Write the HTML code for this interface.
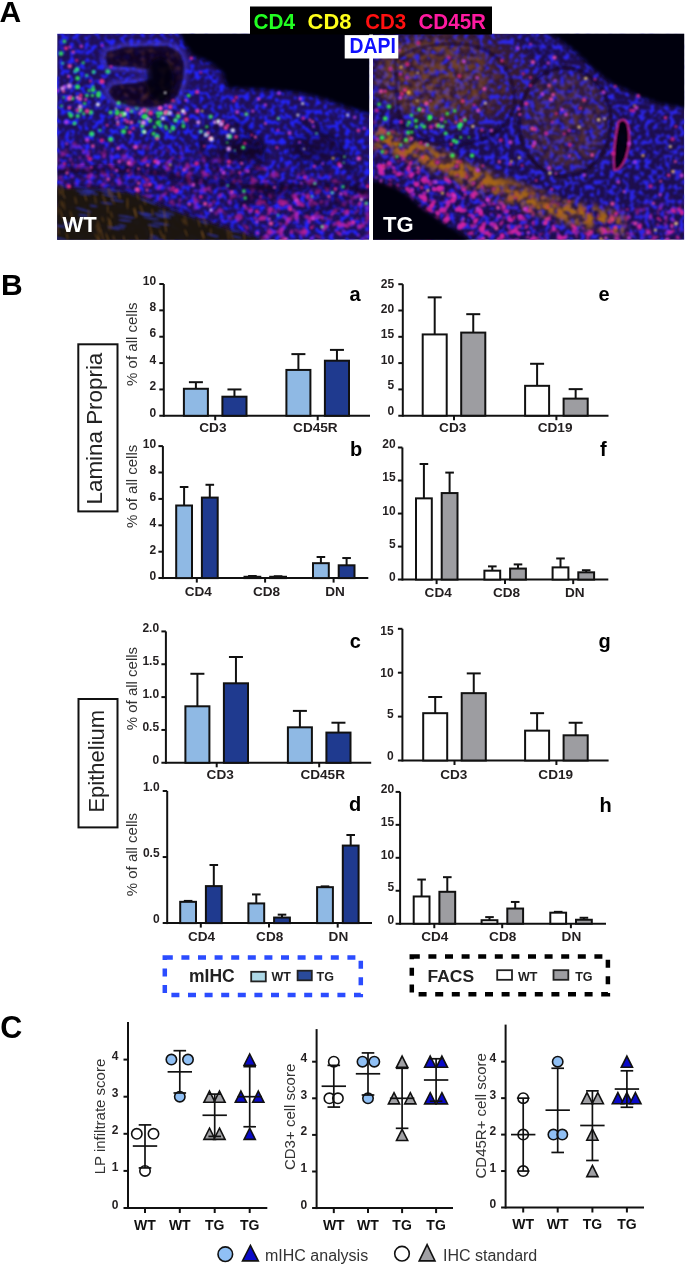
<!DOCTYPE html>
<html><head><meta charset="utf-8"><style>
html,body{margin:0;padding:0;background:#fff;}
body{width:685px;height:1265px;overflow:hidden;position:relative;}
svg{position:absolute;left:0;top:0;will-change:transform;}
text{font-family:"Liberation Sans", sans-serif;}
</style></head><body>
<svg width="685" height="1265" viewBox="0 0 685 1265">
<defs>
<clipPath id="cl"><rect x="57.2" y="33.7" width="312.0" height="206.10000000000002"/></clipPath>
<clipPath id="cr"><rect x="373.0" y="33.7" width="311.20000000000005" height="206.10000000000002"/></clipPath>
<filter id="b2" x="-20%" y="-20%" width="140%" height="140%"><feGaussianBlur stdDeviation="2"/></filter>
<filter id="b4" x="-20%" y="-20%" width="140%" height="140%"><feGaussianBlur stdDeviation="4"/></filter>
<filter id="b7" x="-30%" y="-30%" width="160%" height="160%"><feGaussianBlur stdDeviation="7"/></filter>
<filter id="d1" x="-50%" y="-50%" width="200%" height="200%"><feGaussianBlur stdDeviation="0.8"/></filter>
<filter id="tB" x="-5%" y="-5%" width="110%" height="110%" color-interpolation-filters="sRGB">
<feGaussianBlur in="SourceAlpha" stdDeviation="3" result="m"/>
<feTurbulence type="fractalNoise" baseFrequency="0.2" numOctaves="2" seed="3" result="t"/>
<feColorMatrix in="t" type="matrix" values="0 0 0 0 0.137  0 0 0 0 0.137  0 0 0 0 0.980  0 0 0 6 -2.85" result="c0"/>
<feGaussianBlur in="c0" stdDeviation="0.9" result="c"/>
<feComposite in="c" in2="m" operator="in"/>
</filter>
<filter id="tB2" x="-5%" y="-5%" width="110%" height="110%" color-interpolation-filters="sRGB">
<feGaussianBlur in="SourceAlpha" stdDeviation="3" result="m"/>
<feTurbulence type="fractalNoise" baseFrequency="0.2" numOctaves="2" seed="11" result="t"/>
<feColorMatrix in="t" type="matrix" values="0 0 0 0 0.176  0 0 0 0 0.157  0 0 0 0 0.980  0 0 0 6 -2.85" result="c0"/>
<feGaussianBlur in="c0" stdDeviation="0.9" result="c"/>
<feComposite in="c" in2="m" operator="in"/>
</filter>
<filter id="tM" x="-5%" y="-5%" width="110%" height="110%" color-interpolation-filters="sRGB">
<feGaussianBlur in="SourceAlpha" stdDeviation="5" result="m"/>
<feTurbulence type="fractalNoise" baseFrequency="0.14" numOctaves="2" seed="5" result="t"/>
<feColorMatrix in="t" type="matrix" values="0 0 0 0 0.824  0 0 0 0 0.137  0 0 0 0 0.647  0 0 0 5 -2.6" result="c0"/>
<feGaussianBlur in="c0" stdDeviation="0.9" result="c"/>
<feComposite in="c" in2="m" operator="in"/>
</filter>
<filter id="tO" x="-5%" y="-5%" width="110%" height="110%" color-interpolation-filters="sRGB">
<feGaussianBlur in="SourceAlpha" stdDeviation="5" result="m"/>
<feTurbulence type="fractalNoise" baseFrequency="0.14" numOctaves="2" seed="8" result="t"/>
<feColorMatrix in="t" type="matrix" values="0 0 0 0 0.667  0 0 0 0 0.408  0 0 0 0 0.078  0 0 0 5 -2.0" result="c0"/>
<feGaussianBlur in="c0" stdDeviation="0.9" result="c"/>
<feComposite in="c" in2="m" operator="in"/>
</filter>
<filter id="tBr" x="-5%" y="-5%" width="110%" height="110%" color-interpolation-filters="sRGB">
<feGaussianBlur in="SourceAlpha" stdDeviation="5" result="m"/>
<feTurbulence type="fractalNoise" baseFrequency="0.15" numOctaves="2" seed="9" result="t"/>
<feColorMatrix in="t" type="matrix" values="0 0 0 0 0.431  0 0 0 0 0.235  0 0 0 0 0.196  0 0 0 4 -1.9" result="c0"/>
<feGaussianBlur in="c0" stdDeviation="0.9" result="c"/>
<feComposite in="c" in2="m" operator="in"/>
</filter>
</defs>
<g clip-path="url(#cl)">
<rect x="57.2" y="33.7" width="312.0" height="206.10000000000002" fill="#201056"/>
<rect x="50" y="30" width="325" height="215" fill="#fff" filter="url(#tB)" opacity="1"/>
<g filter="url(#tM)" opacity="0.6">
<path d="M57.0,140.0 L120.0,145.0 L200.0,155.0 L260.0,165.0 L330.0,175.0 L369.0,185.0 L369.0,240.0 L262.0,240.0 L200.0,215.0 L150.0,200.0 L100.0,192.0 L57.0,188.0 Z" fill="#fff" opacity="1"/>
</g>
<g filter="url(#tM)" opacity="0.5">
<path d="M240.0,195.0 L300.0,190.0 L369.0,195.0 L369.0,240.0 L262.0,240.0 Z" fill="#fff" opacity="1"/>
</g>
<g opacity="0.85">
<circle cx="142.3" cy="126.1" r="2.1" fill="#30ff50" filter="url(#d1)"/>
<circle cx="183.4" cy="126.5" r="1.7" fill="#30ff50" filter="url(#d1)"/>
<circle cx="183.4" cy="125.1" r="1.3" fill="#30ff50" filter="url(#d1)"/>
<circle cx="139.6" cy="121.8" r="1.3" fill="#30ff50" filter="url(#d1)"/>
<circle cx="100.0" cy="130.3" r="1.4" fill="#30ff50" filter="url(#d1)"/>
<circle cx="157.1" cy="136.6" r="2.5" fill="#30ff50" filter="url(#d1)"/>
<circle cx="123.3" cy="114.4" r="2.6" fill="#30ff50" filter="url(#d1)"/>
<circle cx="206.8" cy="126.8" r="1.6" fill="#30ff50" filter="url(#d1)"/>
<circle cx="159.3" cy="124.7" r="1.6" fill="#30ff50" filter="url(#d1)"/>
<circle cx="157.6" cy="113.1" r="2.0" fill="#30ff50" filter="url(#d1)"/>
<circle cx="131.4" cy="111.1" r="2.0" fill="#30ff50" filter="url(#d1)"/>
<circle cx="159.7" cy="121.6" r="1.5" fill="#30ff50" filter="url(#d1)"/>
<circle cx="136.6" cy="108.5" r="1.6" fill="#30ff50" filter="url(#d1)"/>
<circle cx="121.7" cy="113.2" r="1.6" fill="#30ff50" filter="url(#d1)"/>
<circle cx="162.8" cy="102.1" r="1.5" fill="#30ff50" filter="url(#d1)"/>
<circle cx="117.3" cy="113.4" r="2.4" fill="#30ff50" filter="url(#d1)"/>
<circle cx="146.8" cy="110.2" r="2.6" fill="#30ff50" filter="url(#d1)"/>
<circle cx="173.0" cy="128.4" r="2.3" fill="#30ff50" filter="url(#d1)"/>
<circle cx="170.1" cy="131.4" r="1.3" fill="#30ff50" filter="url(#d1)"/>
<circle cx="124.9" cy="102.2" r="2.0" fill="#30ff50" filter="url(#d1)"/>
<circle cx="168.5" cy="112.7" r="2.2" fill="#30ff50" filter="url(#d1)"/>
<circle cx="117.2" cy="111.2" r="1.8" fill="#30ff50" filter="url(#d1)"/>
<circle cx="188.7" cy="95.6" r="1.9" fill="#30ff50" filter="url(#d1)"/>
<circle cx="144.5" cy="116.4" r="2.2" fill="#30ff50" filter="url(#d1)"/>
<circle cx="93.0" cy="89.8" r="2.4" fill="#30ff50" filter="url(#d1)"/>
<circle cx="143.6" cy="131.6" r="2.1" fill="#30ff50" filter="url(#d1)"/>
<circle cx="183.1" cy="121.9" r="1.4" fill="#30ff50" filter="url(#d1)"/>
<circle cx="157.8" cy="122.8" r="2.3" fill="#30ff50" filter="url(#d1)"/>
<circle cx="165.6" cy="126.6" r="1.7" fill="#30ff50" filter="url(#d1)"/>
<circle cx="158.5" cy="116.4" r="1.8" fill="#30ff50" filter="url(#d1)"/>
<circle cx="90.8" cy="112.4" r="2.3" fill="#30ff50" filter="url(#d1)"/>
<circle cx="165.9" cy="112.7" r="1.8" fill="#30ff50" filter="url(#d1)"/>
<circle cx="110.7" cy="139.3" r="2.5" fill="#30ff50" filter="url(#d1)"/>
<circle cx="160.9" cy="126.1" r="1.5" fill="#30ff50" filter="url(#d1)"/>
<circle cx="153.6" cy="133.7" r="2.0" fill="#30ff50" filter="url(#d1)"/>
<circle cx="149.8" cy="121.1" r="1.8" fill="#30ff50" filter="url(#d1)"/>
<circle cx="123.6" cy="131.4" r="2.5" fill="#30ff50" filter="url(#d1)"/>
<circle cx="136.8" cy="106.6" r="2.1" fill="#30ff50" filter="url(#d1)"/>
<circle cx="145.5" cy="116.4" r="2.5" fill="#30ff50" filter="url(#d1)"/>
<circle cx="161.4" cy="96.0" r="2.3" fill="#30ff50" filter="url(#d1)"/>
<circle cx="126.4" cy="127.6" r="1.3" fill="#30ff50" filter="url(#d1)"/>
<circle cx="142.9" cy="116.8" r="1.3" fill="#30ff50" filter="url(#d1)"/>
<circle cx="154.6" cy="126.9" r="1.7" fill="#30ff50" filter="url(#d1)"/>
<circle cx="150.6" cy="120.1" r="1.4" fill="#30ff50" filter="url(#d1)"/>
<circle cx="172.9" cy="126.8" r="1.2" fill="#30ff50" filter="url(#d1)"/>
<circle cx="86.7" cy="75.5" r="1.4" fill="#30ff60" filter="url(#d1)"/>
<circle cx="74.8" cy="123.1" r="1.7" fill="#30ff60" filter="url(#d1)"/>
<circle cx="91.7" cy="133.9" r="2.6" fill="#30ff60" filter="url(#d1)"/>
<circle cx="61.5" cy="106.1" r="1.3" fill="#30ff60" filter="url(#d1)"/>
<circle cx="83.8" cy="113.7" r="1.6" fill="#30ff60" filter="url(#d1)"/>
<circle cx="78.4" cy="86.9" r="1.2" fill="#30ff60" filter="url(#d1)"/>
<circle cx="89.0" cy="90.7" r="1.4" fill="#30ff60" filter="url(#d1)"/>
<circle cx="72.3" cy="98.4" r="1.9" fill="#30ff60" filter="url(#d1)"/>
<circle cx="98.7" cy="93.3" r="2.2" fill="#30ff60" filter="url(#d1)"/>
<circle cx="74.2" cy="123.8" r="1.4" fill="#30ff60" filter="url(#d1)"/>
<circle cx="77.0" cy="69.5" r="2.3" fill="#30ff60" filter="url(#d1)"/>
<circle cx="70.9" cy="115.6" r="2.3" fill="#30ff60" filter="url(#d1)"/>
<circle cx="98.4" cy="95.4" r="2.3" fill="#30ff60" filter="url(#d1)"/>
<circle cx="83.2" cy="62.7" r="1.5" fill="#30ff60" filter="url(#d1)"/>
<circle cx="63.8" cy="97.4" r="1.2" fill="#30ff60" filter="url(#d1)"/>
<circle cx="84.6" cy="103.5" r="1.6" fill="#30ff60" filter="url(#d1)"/>
<circle cx="64.4" cy="41.4" r="1.8" fill="#30ff60" filter="url(#d1)"/>
<circle cx="107.9" cy="71.3" r="2.5" fill="#30ff60" filter="url(#d1)"/>
<circle cx="69.4" cy="113.3" r="1.5" fill="#30ff60" filter="url(#d1)"/>
<circle cx="77.7" cy="116.0" r="2.1" fill="#30ff60" filter="url(#d1)"/>
<circle cx="93.6" cy="71.9" r="1.9" fill="#30ff60" filter="url(#d1)"/>
<circle cx="62.7" cy="63.2" r="1.3" fill="#30ff60" filter="url(#d1)"/>
<circle cx="61.0" cy="53.6" r="2.3" fill="#30ff60" filter="url(#d1)"/>
<circle cx="75.0" cy="71.5" r="1.4" fill="#30ff60" filter="url(#d1)"/>
<circle cx="77.6" cy="78.2" r="2.3" fill="#30ff60" filter="url(#d1)"/>
<circle cx="86.9" cy="95.6" r="1.8" fill="#30ff60" filter="url(#d1)"/>
<circle cx="93.2" cy="86.8" r="1.4" fill="#30ff60" filter="url(#d1)"/>
<circle cx="79.8" cy="110.2" r="2.5" fill="#30ff60" filter="url(#d1)"/>
<circle cx="77.3" cy="86.8" r="2.4" fill="#30ff60" filter="url(#d1)"/>
<circle cx="92.4" cy="95.5" r="1.7" fill="#30ff60" filter="url(#d1)"/>
</g>
<path d="M107.0,52.0 L125.0,47.0 L150.0,46.0 L168.0,46.0 L179.0,52.0 L184.0,62.0 L183.0,80.0 L178.0,95.0 L170.0,104.0 L150.0,108.0 L130.0,106.0 L115.0,101.0 L108.0,92.0 L113.0,85.0 L135.0,83.0 L153.0,79.0 L152.0,70.0 L132.0,67.0 L108.0,66.0 L105.0,58.0 Z" fill="none" stroke="#4a40e8" stroke-width="9" opacity="0.55" filter="url(#b2)"/>
<path d="M107.0,52.0 L125.0,47.0 L150.0,46.0 L168.0,46.0 L179.0,52.0 L184.0,62.0 L183.0,80.0 L178.0,95.0 L170.0,104.0 L150.0,108.0 L130.0,106.0 L115.0,101.0 L108.0,92.0 L113.0,85.0 L135.0,83.0 L153.0,79.0 L152.0,70.0 L132.0,67.0 L108.0,66.0 L105.0,58.0 Z" fill="#0a0514" opacity="0.82" filter="url(#d1)"/>
<g filter="url(#tBr)" opacity="0.5"><path d="M107.0,52.0 L125.0,47.0 L150.0,46.0 L168.0,46.0 L179.0,52.0 L184.0,62.0 L183.0,80.0 L178.0,95.0 L170.0,104.0 L150.0,108.0 L130.0,106.0 L115.0,101.0 L108.0,92.0 L113.0,85.0 L135.0,83.0 L153.0,79.0 L152.0,70.0 L132.0,67.0 L108.0,66.0 L105.0,58.0 Z" fill="#fff"/></g>
<ellipse cx="160.0" cy="80.0" rx="14.0" ry="22.0" fill="#05020a" opacity="0.8" transform="rotate(0 160.0 80.0)" filter="url(#b2)"/>
<ellipse cx="249.0" cy="150.0" rx="14.0" ry="12.0" fill="#0a0418" opacity="0.7" transform="rotate(0 249.0 150.0)" filter="url(#b4)"/>
<ellipse cx="300.0" cy="148.0" rx="10.0" ry="9.0" fill="#0a0418" opacity="0.5" transform="rotate(0 300.0 148.0)" filter="url(#b4)"/>
<ellipse cx="262.0" cy="195.0" rx="30.0" ry="8.0" fill="#0a0418" opacity="0.45" transform="rotate(-10 262.0 195.0)" filter="url(#b4)"/>
<ellipse cx="330.0" cy="205.0" rx="25.0" ry="6.0" fill="#0a0418" opacity="0.4" transform="rotate(-15 330.0 205.0)" filter="url(#b4)"/>
<path d="M57,172 Q120,165 180,178 Q240,190 300,186 Q340,184 369,192" fill="none" stroke="#0a0418" stroke-width="5" opacity="0.6" filter="url(#b2)"/>
<path d="M200,140 Q215,120 240,125 Q262,135 262,160 Q255,180 232,178 Q210,170 200,140 Z" fill="none" stroke="#0a0418" stroke-width="4" opacity="0.55" filter="url(#b2)"/>
<path d="M300,120 Q330,130 345,160 Q355,185 369,200" fill="none" stroke="#0a0418" stroke-width="4" opacity="0.45" filter="url(#b2)"/>
<ellipse cx="230.0" cy="150.0" rx="14.0" ry="14.0" fill="#0a0418" opacity="0.5" transform="rotate(0 230.0 150.0)" filter="url(#b4)"/>
<ellipse cx="320.0" cy="150.0" rx="20.0" ry="14.0" fill="#0a0418" opacity="0.5" transform="rotate(0 320.0 150.0)" filter="url(#b7)"/>
<path d="M50.0,186.0 L90.0,188.0 L125.0,191.0 L145.0,197.0 L160.0,205.0 L185.0,214.0 L213.0,223.0 L240.0,232.0 L262.0,238.0 L262.0,250.0 L50.0,250.0 Z" fill="#1e1209" opacity="0.97" filter="url(#b2)"/>
<ellipse cx="59.9" cy="238.5" rx="7.2" ry="1.1" fill="#3038d0" opacity="0.65" transform="rotate(12.898715706485833 59.9 238.5)" filter="url(#d1)"/>
<ellipse cx="235.7" cy="231.0" rx="5.1" ry="1.1" fill="#3038d0" opacity="0.65" transform="rotate(8.777522170481808 235.7 231.0)" filter="url(#d1)"/>
<ellipse cx="117.1" cy="200.5" rx="6.9" ry="1.1" fill="#3038d0" opacity="0.65" transform="rotate(8.890471929053152 117.1 200.5)" filter="url(#d1)"/>
<ellipse cx="150.9" cy="218.3" rx="8.5" ry="1.1" fill="#3038d0" opacity="0.65" transform="rotate(11.309424060635978 150.9 218.3)" filter="url(#d1)"/>
<ellipse cx="166.0" cy="215.2" rx="4.1" ry="1.1" fill="#3038d0" opacity="0.65" transform="rotate(11.60187368577415 166.0 215.2)" filter="url(#d1)"/>
<ellipse cx="154.1" cy="225.7" rx="6.8" ry="1.1" fill="#3038d0" opacity="0.65" transform="rotate(9.889732265732961 154.1 225.7)" filter="url(#d1)"/>
<ellipse cx="163.3" cy="216.9" rx="7.9" ry="1.1" fill="#3038d0" opacity="0.65" transform="rotate(6.591641256573924 163.3 216.9)" filter="url(#d1)"/>
<ellipse cx="113.8" cy="228.2" rx="6.5" ry="1.1" fill="#3038d0" opacity="0.65" transform="rotate(13.425940799847144 113.8 228.2)" filter="url(#d1)"/>
<ellipse cx="212.8" cy="235.4" rx="6.2" ry="1.1" fill="#3038d0" opacity="0.65" transform="rotate(14.187918265166905 212.8 235.4)" filter="url(#d1)"/>
<ellipse cx="160.6" cy="214.6" rx="7.5" ry="1.1" fill="#3038d0" opacity="0.65" transform="rotate(11.785186883973644 160.6 214.6)" filter="url(#d1)"/>
<ellipse cx="166.3" cy="212.9" rx="8.7" ry="1.1" fill="#3038d0" opacity="0.65" transform="rotate(15.488268232704288 166.3 212.9)" filter="url(#d1)"/>
<ellipse cx="236.7" cy="237.0" rx="5.3" ry="1.1" fill="#3038d0" opacity="0.65" transform="rotate(13.392707097465722 236.7 237.0)" filter="url(#d1)"/>
<ellipse cx="85.1" cy="194.3" rx="6.2" ry="1.1" fill="#3038d0" opacity="0.65" transform="rotate(6.088191494847324 85.1 194.3)" filter="url(#d1)"/>
<ellipse cx="106.3" cy="191.8" rx="7.3" ry="1.1" fill="#3038d0" opacity="0.65" transform="rotate(16.759040257597327 106.3 191.8)" filter="url(#d1)"/>
<ellipse cx="203.8" cy="222.3" rx="4.7" ry="1.1" fill="#3038d0" opacity="0.65" transform="rotate(18.24249250485613 203.8 222.3)" filter="url(#d1)"/>
<ellipse cx="156.9" cy="239.5" rx="8.2" ry="1.1" fill="#3038d0" opacity="0.65" transform="rotate(7.421990898213187 156.9 239.5)" filter="url(#d1)"/>
<ellipse cx="145.5" cy="214.8" rx="5.7" ry="1.1" fill="#3038d0" opacity="0.65" transform="rotate(7.936169992008967 145.5 214.8)" filter="url(#d1)"/>
<ellipse cx="122.3" cy="225.6" rx="4.1" ry="1.1" fill="#3038d0" opacity="0.65" transform="rotate(13.31075371712492 122.3 225.6)" filter="url(#d1)"/>
<ellipse cx="125.0" cy="220.4" rx="6.6" ry="1.1" fill="#3038d0" opacity="0.65" transform="rotate(5.964361888861278 125.0 220.4)" filter="url(#d1)"/>
<ellipse cx="111.4" cy="190.1" rx="7.9" ry="1.1" fill="#3038d0" opacity="0.65" transform="rotate(9.056691462819636 111.4 190.1)" filter="url(#d1)"/>
<ellipse cx="83.6" cy="210.0" rx="8.6" ry="1.1" fill="#3038d0" opacity="0.65" transform="rotate(17.284684696719225 83.6 210.0)" filter="url(#d1)"/>
<ellipse cx="110.0" cy="195.8" rx="8.6" ry="1.1" fill="#3038d0" opacity="0.65" transform="rotate(13.558923880898808 110.0 195.8)" filter="url(#d1)"/>
<ellipse cx="68.8" cy="223.8" rx="6.1" ry="1.1" fill="#3038d0" opacity="0.65" transform="rotate(6.0862114208478575 68.8 223.8)" filter="url(#d1)"/>
<ellipse cx="126.5" cy="216.8" rx="8.6" ry="1.1" fill="#3038d0" opacity="0.65" transform="rotate(9.017896200161813 126.5 216.8)" filter="url(#d1)"/>
<ellipse cx="83.5" cy="215.4" rx="5.2" ry="1.1" fill="#3038d0" opacity="0.65" transform="rotate(6.641771976189258 83.5 215.4)" filter="url(#d1)"/>
<ellipse cx="90.1" cy="190.6" rx="5.0" ry="1.1" fill="#3038d0" opacity="0.65" transform="rotate(9.679886061177154 90.1 190.6)" filter="url(#d1)"/>
<ellipse cx="119.5" cy="227.5" rx="5.4" ry="1.1" fill="#3038d0" opacity="0.65" transform="rotate(12.50132899792759 119.5 227.5)" filter="url(#d1)"/>
<ellipse cx="93.5" cy="206.0" rx="4.1" ry="1.1" fill="#3038d0" opacity="0.65" transform="rotate(8.756731342928411 93.5 206.0)" filter="url(#d1)"/>
<ellipse cx="60.1" cy="226.1" rx="6.8" ry="1.1" fill="#3038d0" opacity="0.65" transform="rotate(7.841847447406676 60.1 226.1)" filter="url(#d1)"/>
<ellipse cx="154.3" cy="236.6" rx="4.5" ry="1.1" fill="#3038d0" opacity="0.65" transform="rotate(17.28380210512571 154.3 236.6)" filter="url(#d1)"/>
<ellipse cx="145.6" cy="213.7" rx="8.2" ry="1.1" fill="#3038d0" opacity="0.65" transform="rotate(10.896291133423789 145.6 213.7)" filter="url(#d1)"/>
<ellipse cx="160.9" cy="223.8" rx="8.9" ry="1.1" fill="#3038d0" opacity="0.65" transform="rotate(10.140569381262118 160.9 223.8)" filter="url(#d1)"/>
<ellipse cx="83.6" cy="191.7" rx="7.7" ry="1.1" fill="#3038d0" opacity="0.65" transform="rotate(8.833908151545455 83.6 191.7)" filter="url(#d1)"/>
<ellipse cx="90.5" cy="192.4" rx="8.2" ry="1.1" fill="#3038d0" opacity="0.65" transform="rotate(18.058067318716226 90.5 192.4)" filter="url(#d1)"/>
<ellipse cx="106.7" cy="203.2" rx="6.3" ry="1.1" fill="#3038d0" opacity="0.65" transform="rotate(7.362994097438085 106.7 203.2)" filter="url(#d1)"/>
<ellipse cx="148.4" cy="201.7" rx="8.8" ry="1.1" fill="#3038d0" opacity="0.65" transform="rotate(19.589344969195643 148.4 201.7)" filter="url(#d1)"/>
<ellipse cx="135.2" cy="212.7" rx="5.0" ry="0.9" fill="#8a5a20" opacity="0.5" transform="rotate(66.02940162603096 135.2 212.7)" filter="url(#d1)"/>
<ellipse cx="111.2" cy="192.7" rx="4.6" ry="0.9" fill="#8a5a20" opacity="0.5" transform="rotate(61.25000873073458 111.2 192.7)" filter="url(#d1)"/>
<ellipse cx="61.6" cy="203.8" rx="3.9" ry="0.9" fill="#8a5a20" opacity="0.5" transform="rotate(77.567498525449 61.6 203.8)" filter="url(#d1)"/>
<ellipse cx="165.5" cy="227.0" rx="5.6" ry="0.9" fill="#8a5a20" opacity="0.5" transform="rotate(81.47980320096934 165.5 227.0)" filter="url(#d1)"/>
<ellipse cx="123.9" cy="239.2" rx="3.6" ry="0.9" fill="#8a5a20" opacity="0.5" transform="rotate(81.72467320085477 123.9 239.2)" filter="url(#d1)"/>
<ellipse cx="228.2" cy="234.4" rx="5.5" ry="0.9" fill="#8a5a20" opacity="0.5" transform="rotate(82.01556370430885 228.2 234.4)" filter="url(#d1)"/>
<ellipse cx="164.4" cy="214.2" rx="6.3" ry="0.9" fill="#8a5a20" opacity="0.5" transform="rotate(84.14032817246313 164.4 214.2)" filter="url(#d1)"/>
<ellipse cx="63.4" cy="194.9" rx="4.4" ry="0.9" fill="#8a5a20" opacity="0.5" transform="rotate(63.14749413206091 63.4 194.9)" filter="url(#d1)"/>
<ellipse cx="185.7" cy="220.6" rx="5.7" ry="0.9" fill="#8a5a20" opacity="0.5" transform="rotate(74.67882944579263 185.7 220.6)" filter="url(#d1)"/>
<ellipse cx="57.7" cy="229.5" rx="6.0" ry="0.9" fill="#8a5a20" opacity="0.5" transform="rotate(75.08913157087362 57.7 229.5)" filter="url(#d1)"/>
<ellipse cx="166.7" cy="222.3" rx="3.3" ry="0.9" fill="#8a5a20" opacity="0.5" transform="rotate(82.10364985626751 166.7 222.3)" filter="url(#d1)"/>
<ellipse cx="108.7" cy="191.9" rx="4.1" ry="0.9" fill="#8a5a20" opacity="0.5" transform="rotate(81.8800511411819 108.7 191.9)" filter="url(#d1)"/>
<ellipse cx="99.1" cy="226.5" rx="6.9" ry="0.9" fill="#8a5a20" opacity="0.5" transform="rotate(74.81846336547983 99.1 226.5)" filter="url(#d1)"/>
<ellipse cx="135.4" cy="212.9" rx="5.7" ry="0.9" fill="#8a5a20" opacity="0.5" transform="rotate(83.00910317452568 135.4 212.9)" filter="url(#d1)"/>
<ellipse cx="183.5" cy="221.4" rx="3.3" ry="0.9" fill="#8a5a20" opacity="0.5" transform="rotate(64.42275218630722 183.5 221.4)" filter="url(#d1)"/>
<ellipse cx="109.1" cy="226.6" rx="4.2" ry="0.9" fill="#8a5a20" opacity="0.5" transform="rotate(77.03285093607926 109.1 226.6)" filter="url(#d1)"/>
<ellipse cx="59.6" cy="191.2" rx="4.1" ry="0.9" fill="#8a5a20" opacity="0.5" transform="rotate(80.16004735965709 59.6 191.2)" filter="url(#d1)"/>
<ellipse cx="198.9" cy="223.1" rx="4.2" ry="0.9" fill="#8a5a20" opacity="0.5" transform="rotate(75.49607082133222 198.9 223.1)" filter="url(#d1)"/>
<ellipse cx="152.3" cy="212.2" rx="3.5" ry="0.9" fill="#8a5a20" opacity="0.5" transform="rotate(86.8098877852581 152.3 212.2)" filter="url(#d1)"/>
<ellipse cx="97.8" cy="238.9" rx="6.7" ry="0.9" fill="#8a5a20" opacity="0.5" transform="rotate(60.525133674499884 97.8 238.9)" filter="url(#d1)"/>
<ellipse cx="151.1" cy="230.6" rx="6.9" ry="0.9" fill="#8a5a20" opacity="0.5" transform="rotate(73.48352908953285 151.1 230.6)" filter="url(#d1)"/>
<ellipse cx="112.1" cy="198.9" rx="6.8" ry="0.9" fill="#8a5a20" opacity="0.5" transform="rotate(66.32126392601718 112.1 198.9)" filter="url(#d1)"/>
<ellipse cx="164.4" cy="237.5" rx="3.5" ry="0.9" fill="#8a5a20" opacity="0.5" transform="rotate(84.60651031844353 164.4 237.5)" filter="url(#d1)"/>
<ellipse cx="161.3" cy="234.1" rx="5.8" ry="0.9" fill="#8a5a20" opacity="0.5" transform="rotate(66.9415080915141 161.3 234.1)" filter="url(#d1)"/>
<ellipse cx="62.1" cy="188.2" rx="5.0" ry="0.9" fill="#8a5a20" opacity="0.5" transform="rotate(73.52280901493563 62.1 188.2)" filter="url(#d1)"/>
<ellipse cx="118.9" cy="195.3" rx="4.4" ry="0.9" fill="#8a5a20" opacity="0.5" transform="rotate(69.4823413612491 118.9 195.3)" filter="url(#d1)"/>
<ellipse cx="210.9" cy="231.6" rx="3.5" ry="0.9" fill="#8a5a20" opacity="0.5" transform="rotate(87.7919657965916 210.9 231.6)" filter="url(#d1)"/>
<ellipse cx="203.2" cy="234.9" rx="4.2" ry="0.9" fill="#8a5a20" opacity="0.5" transform="rotate(71.16665998063475 203.2 234.9)" filter="url(#d1)"/>
<ellipse cx="137.5" cy="239.9" rx="5.4" ry="0.9" fill="#8a5a20" opacity="0.5" transform="rotate(70.82127971770215 137.5 239.9)" filter="url(#d1)"/>
<ellipse cx="144.8" cy="202.3" rx="3.2" ry="0.9" fill="#8a5a20" opacity="0.5" transform="rotate(63.05129573902879 144.8 202.3)" filter="url(#d1)"/>
<ellipse cx="111.5" cy="214.6" rx="3.8" ry="0.9" fill="#8a5a20" opacity="0.5" transform="rotate(71.2004785504511 111.5 214.6)" filter="url(#d1)"/>
<ellipse cx="244.3" cy="236.9" rx="5.2" ry="0.9" fill="#8a5a20" opacity="0.5" transform="rotate(81.58717745853444 244.3 236.9)" filter="url(#d1)"/>
<ellipse cx="67.1" cy="226.1" rx="4.8" ry="0.9" fill="#8a5a20" opacity="0.5" transform="rotate(82.58004027722163 67.1 226.1)" filter="url(#d1)"/>
<ellipse cx="67.0" cy="236.2" rx="3.5" ry="0.9" fill="#8a5a20" opacity="0.5" transform="rotate(74.16552262340485 67.0 236.2)" filter="url(#d1)"/>
<ellipse cx="127.5" cy="203.5" rx="6.0" ry="0.9" fill="#8a5a20" opacity="0.5" transform="rotate(89.28888529229562 127.5 203.5)" filter="url(#d1)"/>
<ellipse cx="110.3" cy="222.1" rx="4.2" ry="0.9" fill="#8a5a20" opacity="0.5" transform="rotate(76.71965107371122 110.3 222.1)" filter="url(#d1)"/>
<ellipse cx="137.8" cy="196.7" rx="3.6" ry="0.9" fill="#8a5a20" opacity="0.5" transform="rotate(66.2361756341021 137.8 196.7)" filter="url(#d1)"/>
<ellipse cx="102.1" cy="235.1" rx="7.0" ry="0.9" fill="#8a5a20" opacity="0.5" transform="rotate(73.49881330745437 102.1 235.1)" filter="url(#d1)"/>
<ellipse cx="85.6" cy="198.0" rx="3.4" ry="0.9" fill="#8a5a20" opacity="0.5" transform="rotate(70.25865701344775 85.6 198.0)" filter="url(#d1)"/>
<ellipse cx="75.7" cy="200.4" rx="4.0" ry="0.9" fill="#8a5a20" opacity="0.5" transform="rotate(77.08853226947974 75.7 200.4)" filter="url(#d1)"/>
<ellipse cx="141.6" cy="209.5" rx="5.1" ry="0.9" fill="#8a5a20" opacity="0.5" transform="rotate(71.30597440978285 141.6 209.5)" filter="url(#d1)"/>
<ellipse cx="113.9" cy="238.3" rx="3.5" ry="0.9" fill="#8a5a20" opacity="0.5" transform="rotate(75.10187242833354 113.9 238.3)" filter="url(#d1)"/>
<ellipse cx="186.1" cy="232.9" rx="3.9" ry="0.9" fill="#8a5a20" opacity="0.5" transform="rotate(68.13062643188017 186.1 232.9)" filter="url(#d1)"/>
<ellipse cx="107.9" cy="208.8" rx="4.8" ry="0.9" fill="#8a5a20" opacity="0.5" transform="rotate(88.61830725789429 107.9 208.8)" filter="url(#d1)"/>
<ellipse cx="231.0" cy="233.4" rx="3.1" ry="0.9" fill="#8a5a20" opacity="0.5" transform="rotate(60.96730480161306 231.0 233.4)" filter="url(#d1)"/>
<ellipse cx="202.4" cy="234.6" rx="4.9" ry="0.9" fill="#8a5a20" opacity="0.5" transform="rotate(77.61529471497782 202.4 234.6)" filter="url(#d1)"/>
<ellipse cx="57.0" cy="208.4" rx="6.7" ry="0.9" fill="#8a5a20" opacity="0.5" transform="rotate(84.76767618831875 57.0 208.4)" filter="url(#d1)"/>
<ellipse cx="232.4" cy="238.6" rx="4.0" ry="0.9" fill="#8a5a20" opacity="0.5" transform="rotate(63.27137996788332 232.4 238.6)" filter="url(#d1)"/>
<ellipse cx="88.6" cy="215.2" rx="5.7" ry="0.9" fill="#8a5a20" opacity="0.5" transform="rotate(88.24471678407386 88.6 215.2)" filter="url(#d1)"/>
<ellipse cx="205.0" cy="221.7" rx="6.1" ry="0.9" fill="#8a5a20" opacity="0.5" transform="rotate(73.71975125782268 205.0 221.7)" filter="url(#d1)"/>
<ellipse cx="119.3" cy="194.7" rx="4.0" ry="0.9" fill="#8a5a20" opacity="0.5" transform="rotate(79.08873292150285 119.3 194.7)" filter="url(#d1)"/>
<ellipse cx="71.4" cy="215.3" rx="5.3" ry="0.9" fill="#8a5a20" opacity="0.5" transform="rotate(71.64245842267913 71.4 215.3)" filter="url(#d1)"/>
<ellipse cx="102.8" cy="219.3" rx="3.0" ry="0.9" fill="#8a5a20" opacity="0.5" transform="rotate(69.04563903727548 102.8 219.3)" filter="url(#d1)"/>
<ellipse cx="151.4" cy="237.9" rx="5.6" ry="0.9" fill="#8a5a20" opacity="0.5" transform="rotate(86.51322087102182 151.4 237.9)" filter="url(#d1)"/>
<ellipse cx="107.6" cy="238.0" rx="5.8" ry="0.9" fill="#8a5a20" opacity="0.5" transform="rotate(69.22193483754442 107.6 238.0)" filter="url(#d1)"/>
<ellipse cx="61.5" cy="213.9" rx="5.7" ry="0.9" fill="#8a5a20" opacity="0.5" transform="rotate(72.60047616386981 61.5 213.9)" filter="url(#d1)"/>
<ellipse cx="109.7" cy="222.7" rx="6.7" ry="0.9" fill="#8a5a20" opacity="0.5" transform="rotate(66.8035821973406 109.7 222.7)" filter="url(#d1)"/>
<ellipse cx="64.0" cy="205.6" rx="4.7" ry="0.9" fill="#8a5a20" opacity="0.5" transform="rotate(80.47700048901697 64.0 205.6)" filter="url(#d1)"/>
<ellipse cx="97.6" cy="229.4" rx="6.0" ry="0.9" fill="#8a5a20" opacity="0.5" transform="rotate(75.1463516207261 97.6 229.4)" filter="url(#d1)"/>
<ellipse cx="99.1" cy="238.4" rx="4.2" ry="0.9" fill="#8a5a20" opacity="0.5" transform="rotate(84.60013483329115 99.1 238.4)" filter="url(#d1)"/>
<ellipse cx="104.3" cy="199.5" rx="6.0" ry="0.9" fill="#8a5a20" opacity="0.5" transform="rotate(68.84798551552177 104.3 199.5)" filter="url(#d1)"/>
<ellipse cx="95.4" cy="199.6" rx="4.7" ry="0.9" fill="#8a5a20" opacity="0.5" transform="rotate(79.95882758269096 95.4 199.6)" filter="url(#d1)"/>
<path d="M178.0,30.0 L372.0,30.0 L372.0,115.0 L345.0,107.0 L327.0,100.0 L300.0,93.0 L281.0,91.0 L250.0,89.0 L227.0,88.0 L222.0,72.0 L208.0,62.0 L193.0,56.0 L184.0,44.0 Z" fill="#040208" opacity="1" filter="url(#b2)"/>
<circle cx="73.2" cy="52.0" r="1.6" fill="#ff50b0" opacity="0.85" filter="url(#d1)"/>
<circle cx="285.6" cy="239.5" r="2.2" fill="#ff50b0" opacity="0.85" filter="url(#d1)"/>
<circle cx="116.5" cy="170.5" r="1.8" fill="#d040e0" opacity="0.85" filter="url(#d1)"/>
<circle cx="67.0" cy="172.9" r="1.6" fill="#ff50b0" opacity="0.85" filter="url(#d1)"/>
<circle cx="364.3" cy="128.5" r="1.3" fill="#ff3090" opacity="0.85" filter="url(#d1)"/>
<circle cx="144.3" cy="110.3" r="2.3" fill="#ff3090" opacity="0.85" filter="url(#d1)"/>
<circle cx="232.1" cy="191.8" r="1.6" fill="#ff50b0" opacity="0.85" filter="url(#d1)"/>
<circle cx="313.5" cy="126.5" r="1.3" fill="#d040e0" opacity="0.85" filter="url(#d1)"/>
<circle cx="118.1" cy="148.3" r="1.7" fill="#ff50b0" opacity="0.85" filter="url(#d1)"/>
<circle cx="66.4" cy="122.2" r="2.1" fill="#d040e0" opacity="0.85" filter="url(#d1)"/>
<circle cx="69.7" cy="47.0" r="1.3" fill="#ff3090" opacity="0.85" filter="url(#d1)"/>
<circle cx="137.2" cy="189.5" r="2.2" fill="#ff50b0" opacity="0.85" filter="url(#d1)"/>
<circle cx="170.2" cy="107.0" r="2.2" fill="#ff3090" opacity="0.85" filter="url(#d1)"/>
<circle cx="138.8" cy="183.3" r="1.5" fill="#ff50b0" opacity="0.85" filter="url(#d1)"/>
<circle cx="149.8" cy="184.3" r="1.9" fill="#ff3090" opacity="0.85" filter="url(#d1)"/>
<circle cx="64.6" cy="86.8" r="1.7" fill="#d040e0" opacity="0.85" filter="url(#d1)"/>
<circle cx="354.6" cy="117.3" r="1.5" fill="#d040e0" opacity="0.85" filter="url(#d1)"/>
<circle cx="200.8" cy="196.8" r="1.9" fill="#e02080" opacity="0.85" filter="url(#d1)"/>
<circle cx="184.2" cy="169.9" r="1.7" fill="#ff50b0" opacity="0.85" filter="url(#d1)"/>
<circle cx="107.1" cy="125.3" r="1.3" fill="#ff3090" opacity="0.85" filter="url(#d1)"/>
<circle cx="87.1" cy="139.7" r="2.0" fill="#d040e0" opacity="0.85" filter="url(#d1)"/>
<circle cx="111.0" cy="66.6" r="1.7" fill="#e02080" opacity="0.85" filter="url(#d1)"/>
<circle cx="290.4" cy="209.4" r="1.9" fill="#ff3090" opacity="0.85" filter="url(#d1)"/>
<circle cx="300.3" cy="98.8" r="1.5" fill="#ff50b0" opacity="0.85" filter="url(#d1)"/>
<circle cx="173.4" cy="187.6" r="1.4" fill="#e02080" opacity="0.85" filter="url(#d1)"/>
<circle cx="221.2" cy="169.9" r="1.3" fill="#d040e0" opacity="0.85" filter="url(#d1)"/>
<circle cx="205.1" cy="203.8" r="2.1" fill="#ff50b0" opacity="0.85" filter="url(#d1)"/>
<circle cx="69.6" cy="98.7" r="1.3" fill="#e02080" opacity="0.85" filter="url(#d1)"/>
<circle cx="244.4" cy="205.6" r="1.4" fill="#ff3090" opacity="0.85" filter="url(#d1)"/>
<circle cx="197.1" cy="92.0" r="2.1" fill="#ff3090" opacity="0.85" filter="url(#d1)"/>
<circle cx="90.0" cy="159.2" r="1.9" fill="#e02080" opacity="0.85" filter="url(#d1)"/>
<circle cx="68.7" cy="108.0" r="1.2" fill="#ff50b0" opacity="0.85" filter="url(#d1)"/>
<circle cx="68.9" cy="186.4" r="2.2" fill="#ff3090" opacity="0.85" filter="url(#d1)"/>
<circle cx="312.5" cy="121.8" r="1.6" fill="#ff50b0" opacity="0.85" filter="url(#d1)"/>
<circle cx="81.3" cy="46.3" r="1.7" fill="#d040e0" opacity="0.85" filter="url(#d1)"/>
<circle cx="76.7" cy="60.3" r="1.6" fill="#e02080" opacity="0.85" filter="url(#d1)"/>
<circle cx="108.1" cy="179.1" r="1.7" fill="#ff50b0" opacity="0.85" filter="url(#d1)"/>
<circle cx="265.4" cy="123.6" r="1.3" fill="#ff50b0" opacity="0.85" filter="url(#d1)"/>
<circle cx="296.2" cy="200.4" r="1.9" fill="#d040e0" opacity="0.85" filter="url(#d1)"/>
<circle cx="189.2" cy="204.1" r="1.6" fill="#ff50b0" opacity="0.85" filter="url(#d1)"/>
<circle cx="200.8" cy="72.5" r="1.2" fill="#e02080" opacity="0.85" filter="url(#d1)"/>
<circle cx="256.9" cy="222.0" r="1.3" fill="#ff50b0" opacity="0.85" filter="url(#d1)"/>
<circle cx="176.7" cy="190.7" r="2.1" fill="#e02080" opacity="0.85" filter="url(#d1)"/>
<circle cx="155.1" cy="161.5" r="1.9" fill="#ff3090" opacity="0.85" filter="url(#d1)"/>
<circle cx="339.1" cy="164.1" r="2.1" fill="#e02080" opacity="0.85" filter="url(#d1)"/>
<circle cx="256.8" cy="211.3" r="1.9" fill="#e02080" opacity="0.85" filter="url(#d1)"/>
<circle cx="125.1" cy="119.9" r="1.8" fill="#d040e0" opacity="0.85" filter="url(#d1)"/>
<circle cx="359.9" cy="203.1" r="1.4" fill="#ff3090" opacity="0.85" filter="url(#d1)"/>
<circle cx="265.4" cy="104.8" r="1.6" fill="#d040e0" opacity="0.85" filter="url(#d1)"/>
<circle cx="228.6" cy="165.4" r="1.5" fill="#d040e0" opacity="0.85" filter="url(#d1)"/>
<circle cx="178.4" cy="113.5" r="1.8" fill="#e02080" opacity="0.85" filter="url(#d1)"/>
<circle cx="64.3" cy="163.8" r="1.7" fill="#e02080" opacity="0.85" filter="url(#d1)"/>
<circle cx="196.4" cy="163.7" r="2.1" fill="#e02080" opacity="0.85" filter="url(#d1)"/>
<circle cx="309.9" cy="120.1" r="1.3" fill="#ff50b0" opacity="0.85" filter="url(#d1)"/>
<circle cx="191.3" cy="58.3" r="1.7" fill="#ff3090" opacity="0.85" filter="url(#d1)"/>
<circle cx="69.7" cy="66.1" r="2.2" fill="#ff50b0" opacity="0.85" filter="url(#d1)"/>
<circle cx="299.6" cy="142.3" r="1.3" fill="#d040e0" opacity="0.85" filter="url(#d1)"/>
<circle cx="260.7" cy="196.8" r="1.2" fill="#ff3090" opacity="0.85" filter="url(#d1)"/>
<circle cx="367.8" cy="186.4" r="2.1" fill="#e02080" opacity="0.85" filter="url(#d1)"/>
<circle cx="305.0" cy="177.2" r="2.0" fill="#e02080" opacity="0.85" filter="url(#d1)"/>
<circle cx="77.4" cy="110.2" r="2.0" fill="#e02080" opacity="0.85" filter="url(#d1)"/>
<circle cx="158.0" cy="162.7" r="2.2" fill="#d040e0" opacity="0.85" filter="url(#d1)"/>
<circle cx="101.8" cy="140.4" r="2.2" fill="#e02080" opacity="0.85" filter="url(#d1)"/>
<circle cx="241.7" cy="163.2" r="1.5" fill="#ff50b0" opacity="0.85" filter="url(#d1)"/>
<circle cx="68.5" cy="76.4" r="1.4" fill="#ff50b0" opacity="0.85" filter="url(#d1)"/>
<circle cx="269.1" cy="219.1" r="1.4" fill="#ff50b0" opacity="0.85" filter="url(#d1)"/>
<circle cx="92.9" cy="146.1" r="1.9" fill="#ff50b0" opacity="0.85" filter="url(#d1)"/>
<circle cx="358.4" cy="130.6" r="1.8" fill="#ff3090" opacity="0.85" filter="url(#d1)"/>
<circle cx="135.6" cy="147.1" r="2.1" fill="#ff50b0" opacity="0.85" filter="url(#d1)"/>
<circle cx="237.1" cy="112.1" r="2.0" fill="#d040e0" opacity="0.85" filter="url(#d1)"/>
<circle cx="128.8" cy="163.1" r="2.3" fill="#ff50b0" opacity="0.85" filter="url(#d1)"/>
<circle cx="239.8" cy="172.7" r="1.5" fill="#ff3090" opacity="0.85" filter="url(#d1)"/>
<circle cx="147.8" cy="165.1" r="1.7" fill="#ff50b0" opacity="0.85" filter="url(#d1)"/>
<circle cx="127.9" cy="170.6" r="1.2" fill="#ff3090" opacity="0.85" filter="url(#d1)"/>
<circle cx="233.9" cy="100.7" r="1.8" fill="#e02080" opacity="0.85" filter="url(#d1)"/>
<circle cx="185.9" cy="100.2" r="1.3" fill="#ff50b0" opacity="0.85" filter="url(#d1)"/>
<circle cx="251.7" cy="135.0" r="1.3" fill="#e02080" opacity="0.85" filter="url(#d1)"/>
<circle cx="277.7" cy="130.2" r="1.3" fill="#e02080" opacity="0.85" filter="url(#d1)"/>
<circle cx="328.8" cy="196.4" r="1.6" fill="#ff50b0" opacity="0.85" filter="url(#d1)"/>
<circle cx="313.1" cy="218.5" r="1.9" fill="#d040e0" opacity="0.85" filter="url(#d1)"/>
<circle cx="244.8" cy="143.5" r="1.7" fill="#e02080" opacity="0.85" filter="url(#d1)"/>
<circle cx="222.8" cy="121.2" r="1.5" fill="#ff3090" opacity="0.85" filter="url(#d1)"/>
<circle cx="248.1" cy="171.4" r="1.4" fill="#d040e0" opacity="0.85" filter="url(#d1)"/>
<circle cx="119.2" cy="161.6" r="1.8" fill="#d040e0" opacity="0.85" filter="url(#d1)"/>
<circle cx="301.3" cy="183.1" r="1.2" fill="#d040e0" opacity="0.85" filter="url(#d1)"/>
<circle cx="289.5" cy="133.1" r="2.0" fill="#d040e0" opacity="0.85" filter="url(#d1)"/>
<circle cx="138.6" cy="168.8" r="1.3" fill="#ff50b0" opacity="0.85" filter="url(#d1)"/>
<circle cx="279.0" cy="93.2" r="1.8" fill="#d040e0" opacity="0.85" filter="url(#d1)"/>
<circle cx="270.9" cy="223.5" r="2.3" fill="#ff50b0" opacity="0.85" filter="url(#d1)"/>
<circle cx="257.3" cy="233.0" r="1.4" fill="#ff3090" opacity="0.85" filter="url(#d1)"/>
<circle cx="116.9" cy="117.7" r="1.9" fill="#d040e0" opacity="0.85" filter="url(#d1)"/>
<circle cx="340.2" cy="166.1" r="2.0" fill="#d040e0" opacity="0.85" filter="url(#d1)"/>
<circle cx="204.3" cy="146.1" r="1.2" fill="#ff3090" opacity="0.85" filter="url(#d1)"/>
<circle cx="193.4" cy="184.9" r="1.8" fill="#ff50b0" opacity="0.85" filter="url(#d1)"/>
<circle cx="303.2" cy="118.3" r="1.8" fill="#e02080" opacity="0.85" filter="url(#d1)"/>
<circle cx="102.1" cy="45.4" r="1.3" fill="#e02080" opacity="0.85" filter="url(#d1)"/>
<circle cx="66.0" cy="48.3" r="2.0" fill="#ff3090" opacity="0.85" filter="url(#d1)"/>
<circle cx="274.5" cy="187.4" r="1.3" fill="#ff50b0" opacity="0.85" filter="url(#d1)"/>
<circle cx="223.6" cy="172.8" r="2.2" fill="#d040e0" opacity="0.85" filter="url(#d1)"/>
<circle cx="90.4" cy="81.1" r="1.3" fill="#ff3090" opacity="0.85" filter="url(#d1)"/>
<circle cx="353.2" cy="222.2" r="2.0" fill="#ff3090" opacity="0.85" filter="url(#d1)"/>
<circle cx="314.4" cy="166.3" r="1.5" fill="#ff3090" opacity="0.85" filter="url(#d1)"/>
<circle cx="258.7" cy="98.9" r="1.6" fill="#ff50b0" opacity="0.85" filter="url(#d1)"/>
<circle cx="63.5" cy="91.3" r="1.5" fill="#ff50b0" opacity="0.85" filter="url(#d1)"/>
<circle cx="341.0" cy="193.8" r="1.9" fill="#d040e0" opacity="0.85" filter="url(#d1)"/>
<circle cx="322.6" cy="163.7" r="1.2" fill="#d040e0" opacity="0.85" filter="url(#d1)"/>
<circle cx="66.7" cy="143.7" r="1.3" fill="#d040e0" opacity="0.85" filter="url(#d1)"/>
<circle cx="276.9" cy="147.6" r="1.4" fill="#ff3090" opacity="0.85" filter="url(#d1)"/>
<circle cx="236.3" cy="97.4" r="1.7" fill="#e02080" opacity="0.85" filter="url(#d1)"/>
<circle cx="147.0" cy="190.1" r="1.3" fill="#ff50b0" opacity="0.85" filter="url(#d1)"/>
<circle cx="210.1" cy="138.3" r="2.1" fill="#e02080" opacity="0.85" filter="url(#d1)"/>
<circle cx="358.8" cy="158.5" r="2.3" fill="#ff50b0" opacity="0.85" filter="url(#d1)"/>
<circle cx="311.4" cy="227.7" r="1.5" fill="#e02080" opacity="0.85" filter="url(#d1)"/>
<circle cx="91.3" cy="167.3" r="1.3" fill="#ff3090" opacity="0.85" filter="url(#d1)"/>
<circle cx="252.9" cy="111.1" r="1.6" fill="#d040e0" opacity="0.85" filter="url(#d1)"/>
<circle cx="335.3" cy="189.0" r="1.7" fill="#ff3090" opacity="0.85" filter="url(#d1)"/>
<circle cx="173.0" cy="100.6" r="1.7" fill="#e02080" opacity="0.85" filter="url(#d1)"/>
<circle cx="129.9" cy="132.2" r="1.8" fill="#ff3090" opacity="0.85" filter="url(#d1)"/>
<circle cx="165.7" cy="105.3" r="1.4" fill="#d040e0" opacity="0.85" filter="url(#d1)"/>
<circle cx="311.9" cy="196.5" r="1.2" fill="#60ff90" opacity="0.8" filter="url(#d1)"/>
<circle cx="316.5" cy="133.4" r="1.2" fill="#60ff90" opacity="0.8" filter="url(#d1)"/>
<circle cx="278.1" cy="215.1" r="1.2" fill="#30ff60" opacity="0.8" filter="url(#d1)"/>
<circle cx="245.2" cy="198.1" r="1.8" fill="#30ff60" opacity="0.8" filter="url(#d1)"/>
<circle cx="322.2" cy="226.7" r="1.7" fill="#60ff90" opacity="0.8" filter="url(#d1)"/>
<circle cx="227.2" cy="142.6" r="1.2" fill="#30ff60" opacity="0.8" filter="url(#d1)"/>
<circle cx="227.8" cy="185.5" r="1.2" fill="#30ff60" opacity="0.8" filter="url(#d1)"/>
<circle cx="366.3" cy="203.3" r="1.7" fill="#60ff90" opacity="0.8" filter="url(#d1)"/>
<circle cx="246.3" cy="114.2" r="1.9" fill="#60ff90" opacity="0.8" filter="url(#d1)"/>
<circle cx="234.9" cy="150.5" r="1.0" fill="#60ff90" opacity="0.8" filter="url(#d1)"/>
<circle cx="344.4" cy="156.7" r="1.2" fill="#60ff90" opacity="0.8" filter="url(#d1)"/>
<circle cx="278.3" cy="118.4" r="1.6" fill="#60ff90" opacity="0.8" filter="url(#d1)"/>
<circle cx="200.9" cy="131.5" r="1.9" fill="#60ff90" opacity="0.8" filter="url(#d1)"/>
<circle cx="343.0" cy="186.8" r="1.7" fill="#30ff60" opacity="0.8" filter="url(#d1)"/>
<circle cx="314.9" cy="183.4" r="1.5" fill="#60ff90" opacity="0.8" filter="url(#d1)"/>
<circle cx="243.9" cy="191.1" r="1.9" fill="#30ff60" opacity="0.8" filter="url(#d1)"/>
<circle cx="332.2" cy="192.7" r="1.6" fill="#60ff90" opacity="0.8" filter="url(#d1)"/>
<circle cx="343.6" cy="162.8" r="1.0" fill="#60ff90" opacity="0.8" filter="url(#d1)"/>
<circle cx="229.5" cy="136.5" r="2.5" fill="#40ff70" opacity="0.85" filter="url(#d1)"/>
<circle cx="80.2" cy="106.8" r="2.3" fill="#f0a0ff" opacity="0.85" filter="url(#d1)"/>
<circle cx="236.0" cy="136.8" r="1.9" fill="#ff3080" opacity="0.85" filter="url(#d1)"/>
<circle cx="97.9" cy="104.5" r="2.0" fill="#ffffff" opacity="0.85" filter="url(#d1)"/>
<circle cx="141.9" cy="111.3" r="1.5" fill="#f0a0ff" opacity="0.85" filter="url(#d1)"/>
<circle cx="166.5" cy="111.5" r="1.8" fill="#ff3080" opacity="0.85" filter="url(#d1)"/>
<circle cx="69.8" cy="107.5" r="1.4" fill="#ff40a0" opacity="0.85" filter="url(#d1)"/>
<circle cx="227.7" cy="125.4" r="1.6" fill="#ff3080" opacity="0.85" filter="url(#d1)"/>
<circle cx="101.9" cy="81.4" r="2.6" fill="#ff3080" opacity="0.85" filter="url(#d1)"/>
<circle cx="255.4" cy="137.0" r="1.5" fill="#ff60c0" opacity="0.85" filter="url(#d1)"/>
<circle cx="210.7" cy="116.7" r="2.1" fill="#40ff70" opacity="0.85" filter="url(#d1)"/>
<circle cx="198.3" cy="122.3" r="2.1" fill="#f0a0ff" opacity="0.85" filter="url(#d1)"/>
<circle cx="218.3" cy="121.6" r="2.3" fill="#ffffff" opacity="0.85" filter="url(#d1)"/>
<circle cx="184.7" cy="113.2" r="1.6" fill="#ff60c0" opacity="0.85" filter="url(#d1)"/>
<circle cx="131.3" cy="122.5" r="1.9" fill="#ff60c0" opacity="0.85" filter="url(#d1)"/>
<circle cx="214.7" cy="122.3" r="1.7" fill="#f0a0ff" opacity="0.85" filter="url(#d1)"/>
<circle cx="143.4" cy="122.8" r="2.5" fill="#f0a0ff" opacity="0.85" filter="url(#d1)"/>
<circle cx="87.1" cy="111.2" r="2.4" fill="#ff40a0" opacity="0.85" filter="url(#d1)"/>
<circle cx="232.8" cy="130.4" r="2.1" fill="#ffffff" opacity="0.85" filter="url(#d1)"/>
<circle cx="77.6" cy="97.4" r="1.7" fill="#f0a0ff" opacity="0.85" filter="url(#d1)"/>
<circle cx="165.2" cy="113.1" r="2.3" fill="#ff60c0" opacity="0.85" filter="url(#d1)"/>
<circle cx="133.3" cy="128.3" r="1.5" fill="#ff3080" opacity="0.85" filter="url(#d1)"/>
<circle cx="221.2" cy="124.1" r="2.5" fill="#f0a0ff" opacity="0.85" filter="url(#d1)"/>
<circle cx="160.9" cy="113.3" r="2.2" fill="#40ff70" opacity="0.85" filter="url(#d1)"/>
<circle cx="160.5" cy="108.2" r="2.0" fill="#ff40a0" opacity="0.85" filter="url(#d1)"/>
<circle cx="110.6" cy="112.4" r="2.0" fill="#40ff70" opacity="0.85" filter="url(#d1)"/>
<circle cx="159.8" cy="108.1" r="1.9" fill="#ff60c0" opacity="0.85" filter="url(#d1)"/>
<circle cx="163.0" cy="118.4" r="1.9" fill="#ffffff" opacity="0.85" filter="url(#d1)"/>
<circle cx="117.9" cy="124.3" r="1.5" fill="#ff40a0" opacity="0.85" filter="url(#d1)"/>
<circle cx="127.7" cy="109.6" r="2.2" fill="#ff40a0" opacity="0.85" filter="url(#d1)"/>
<circle cx="228.8" cy="161.7" r="1.9" fill="#ff3080" opacity="0.85" filter="url(#d1)"/>
<circle cx="206.4" cy="134.5" r="2.1" fill="#40ff70" opacity="0.85" filter="url(#d1)"/>
<circle cx="140.0" cy="113.6" r="1.7" fill="#ff60c0" opacity="0.85" filter="url(#d1)"/>
<circle cx="125.0" cy="113.7" r="1.7" fill="#ffffff" opacity="0.85" filter="url(#d1)"/>
<circle cx="211.4" cy="139.0" r="2.4" fill="#ffffff" opacity="0.85" filter="url(#d1)"/>
<circle cx="127.5" cy="121.7" r="1.7" fill="#ff40a0" opacity="0.85" filter="url(#d1)"/>
<circle cx="117.8" cy="121.9" r="1.4" fill="#f0a0ff" opacity="0.85" filter="url(#d1)"/>
<circle cx="243.2" cy="147.4" r="2.0" fill="#40ff70" opacity="0.85" filter="url(#d1)"/>
<circle cx="69.2" cy="98.3" r="2.4" fill="#ff60c0" opacity="0.85" filter="url(#d1)"/>
<circle cx="150.5" cy="112.9" r="2.5" fill="#ff3080" opacity="0.85" filter="url(#d1)"/>
<circle cx="170.0" cy="113.1" r="2.2" fill="#f0a0ff" opacity="0.85" filter="url(#d1)"/>
<circle cx="228.0" cy="135.8" r="1.9" fill="#f0a0ff" opacity="0.85" filter="url(#d1)"/>
<circle cx="208.0" cy="133.1" r="1.8" fill="#ff40a0" opacity="0.85" filter="url(#d1)"/>
<circle cx="80.0" cy="98.8" r="2.3" fill="#ff60c0" opacity="0.85" filter="url(#d1)"/>
<circle cx="166.5" cy="128.8" r="1.3" fill="#40ff70" opacity="0.85" filter="url(#d1)"/>
<circle cx="56.7" cy="90.6" r="1.9" fill="#ff40a0" opacity="0.85" filter="url(#d1)"/>
<circle cx="69.3" cy="85.9" r="2.6" fill="#f0a0ff" opacity="0.85" filter="url(#d1)"/>
<circle cx="148.0" cy="118.8" r="1.9" fill="#f0a0ff" opacity="0.85" filter="url(#d1)"/>
<circle cx="225.8" cy="127.8" r="2.2" fill="#ff40a0" opacity="0.85" filter="url(#d1)"/>
<circle cx="85.6" cy="99.6" r="1.5" fill="#ff40a0" opacity="0.85" filter="url(#d1)"/>
<circle cx="62.5" cy="88.5" r="2.3" fill="#f0a0ff" opacity="0.85" filter="url(#d1)"/>
<circle cx="228.7" cy="148.9" r="2.4" fill="#f0a0ff" opacity="0.85" filter="url(#d1)"/>
<circle cx="205.9" cy="134.9" r="1.9" fill="#f0a0ff" opacity="0.85" filter="url(#d1)"/>
<circle cx="197.4" cy="111.0" r="2.2" fill="#ff40a0" opacity="0.85" filter="url(#d1)"/>
<circle cx="70.8" cy="96.9" r="1.4" fill="#ff3080" opacity="0.85" filter="url(#d1)"/>
<circle cx="118.6" cy="103.0" r="2.1" fill="#40ff70" opacity="0.85" filter="url(#d1)"/>
<circle cx="157.1" cy="138.7" r="1.8" fill="#ff40a0" opacity="0.85" filter="url(#d1)"/>
<circle cx="178.2" cy="116.4" r="2.3" fill="#40ff70" opacity="0.85" filter="url(#d1)"/>
<circle cx="144.6" cy="132.0" r="1.7" fill="#ffffff" opacity="0.85" filter="url(#d1)"/>
<circle cx="80.7" cy="95.2" r="1.7" fill="#ff3080" opacity="0.85" filter="url(#d1)"/>
<circle cx="186.3" cy="119.6" r="2.4" fill="#ff3080" opacity="0.85" filter="url(#d1)"/>
<circle cx="175.5" cy="120.2" r="2.2" fill="#40ff70" opacity="0.85" filter="url(#d1)"/>
<circle cx="183.0" cy="111.1" r="2.2" fill="#ffffff" opacity="0.85" filter="url(#d1)"/>
<circle cx="120.7" cy="115.3" r="1.7" fill="#ff40a0" opacity="0.85" filter="url(#d1)"/>
<circle cx="361.3" cy="199.6" r="1.4" fill="#ffffff" opacity="0.8" filter="url(#d1)"/>
<circle cx="165.2" cy="92.8" r="1.4" fill="#ffffff" opacity="0.8" filter="url(#d1)"/>
<circle cx="347.7" cy="115.1" r="1.5" fill="#ffffff" opacity="0.8" filter="url(#d1)"/>
<circle cx="202.2" cy="111.0" r="1.2" fill="#ffe060" opacity="0.8" filter="url(#d1)"/>
<circle cx="304.0" cy="149.0" r="1.1" fill="#ffffff" opacity="0.8" filter="url(#d1)"/>
<circle cx="297.9" cy="114.9" r="1.5" fill="#ffffff" opacity="0.8" filter="url(#d1)"/>
<circle cx="333.1" cy="158.3" r="1.4" fill="#ffe060" opacity="0.8" filter="url(#d1)"/>
<circle cx="116.0" cy="108.8" r="1.1" fill="#ffffff" opacity="0.8" filter="url(#d1)"/>
<circle cx="170.2" cy="164.7" r="1.3" fill="#ffe060" opacity="0.8" filter="url(#d1)"/>
<circle cx="210.9" cy="210.0" r="1.3" fill="#ffffff" opacity="0.8" filter="url(#d1)"/>
<circle cx="302.7" cy="103.4" r="1.5" fill="#ffffff" opacity="0.8" filter="url(#d1)"/>
</g>
<g clip-path="url(#cr)">
<rect x="373.0" y="33.7" width="311.20000000000005" height="206.10000000000002" fill="#1e0f4c"/>
<ellipse cx="455.0" cy="78.0" rx="80.0" ry="50.0" fill="#4a2820" opacity="0.6" transform="rotate(0 455.0 78.0)" filter="url(#b7)"/>
<ellipse cx="565.0" cy="125.0" rx="48.0" ry="55.0" fill="#3a2030" opacity="0.45" transform="rotate(0 565.0 125.0)" filter="url(#b7)"/>
<rect x="365" y="30" width="325" height="215" fill="#fff" filter="url(#tB2)" opacity="0.9"/>
<g filter="url(#tBr)" opacity="0.45">
<ellipse cx="455.0" cy="80.0" rx="60.0" ry="42.0" fill="#fff" opacity="1" transform="rotate(0 455.0 80.0)"/>
</g>
<g filter="url(#tBr)" opacity="0.3">
<ellipse cx="565.0" cy="120.0" rx="45.0" ry="52.0" fill="#fff" opacity="1" transform="rotate(0 565.0 120.0)"/>
</g>
<g filter="url(#tO)" opacity="0.4">
<ellipse cx="430.0" cy="75.0" rx="60.0" ry="40.0" fill="#fff" opacity="1" transform="rotate(0 430.0 75.0)"/>
</g>
<g filter="url(#tO)" opacity="0.2">
<ellipse cx="565.0" cy="120.0" rx="40.0" ry="48.0" fill="#fff" opacity="1" transform="rotate(0 565.0 120.0)"/>
</g>
<g filter="url(#tM)">
<path d="M373.0,120.0 L430.0,150.0 L500.0,185.0 L560.0,205.0 L620.0,215.0 L690.0,200.0 L690.0,245.0 L365.0,245.0 Z" fill="#fff" opacity="1"/>
</g>
<g filter="url(#tM)" opacity="0.8">
<path d="M373.0,150.0 L420.0,175.0 L470.0,200.0 L520.0,215.0 L540.0,245.0 L365.0,245.0 Z" fill="#fff" opacity="1"/>
</g>
<ellipse cx="487.0" cy="180.0" rx="120.0" ry="9.0" fill="#7a4810" opacity="0.45" transform="rotate(22 487.0 180.0)" filter="url(#b4)"/>
<g filter="url(#tO)">
<path d="M373.0,126.0 L418.0,141.0 L487.0,173.0 L555.0,199.0 L600.0,208.0 L622.0,216.0 L628.0,236.0 L600.0,230.0 L555.0,219.0 L487.0,194.0 L418.0,163.0 L373.0,147.0 Z" fill="#fff" opacity="1"/>
</g>
<ellipse cx="565" cy="122" rx="46" ry="54" fill="none" stroke="#0c0620" stroke-width="2.5" opacity="0.7" filter="url(#d1)"/>
<path d="M395,60 Q420,40 470,45 Q515,55 515,105 Q505,140 455,146 Q405,146 398,110 Z" fill="none" stroke="#0c0620" stroke-width="2.5" opacity="0.6" filter="url(#d1)"/>
<path d="M540.0,30.0 L690.0,30.0 L690.0,109.0 L660.0,104.0 L643.0,98.0 L625.0,90.0 L609.0,82.0 L592.0,68.0 L575.0,52.0 L560.0,40.0 Z" fill="#040208" opacity="1" filter="url(#b2)"/>
<path d="M365.0,179.0 L380.0,181.0 L396.0,187.0 L410.0,196.0 L419.0,205.0 L430.0,213.0 L441.0,221.0 L455.0,229.0 L464.0,235.0 L474.0,245.0 L365.0,245.0 Z" fill="#040208" opacity="1" filter="url(#b2)"/>
<path d="M618,122 Q624,116 628,124 Q632,140 626,158 Q620,172 614,170 Q612,150 618,122 Z" fill="#040208" stroke="#e02a9a" stroke-width="1.6" opacity="0.95" filter="url(#d1)"/>
<circle cx="460.5" cy="161.4" r="1.3" fill="#e02080" opacity="0.8" filter="url(#d1)"/>
<circle cx="682.0" cy="213.2" r="1.7" fill="#e02080" opacity="0.8" filter="url(#d1)"/>
<circle cx="454.6" cy="195.8" r="1.7" fill="#d040e0" opacity="0.8" filter="url(#d1)"/>
<circle cx="612.4" cy="203.8" r="2.3" fill="#ff50b0" opacity="0.8" filter="url(#d1)"/>
<circle cx="636.2" cy="107.8" r="2.3" fill="#d040e0" opacity="0.8" filter="url(#d1)"/>
<circle cx="399.1" cy="50.2" r="1.8" fill="#d040e0" opacity="0.8" filter="url(#d1)"/>
<circle cx="524.9" cy="209.1" r="2.2" fill="#d040e0" opacity="0.8" filter="url(#d1)"/>
<circle cx="660.7" cy="181.3" r="1.3" fill="#ff50b0" opacity="0.8" filter="url(#d1)"/>
<circle cx="549.1" cy="168.1" r="2.3" fill="#d040e0" opacity="0.8" filter="url(#d1)"/>
<circle cx="430.0" cy="209.9" r="1.6" fill="#e02080" opacity="0.8" filter="url(#d1)"/>
<circle cx="385.1" cy="91.2" r="1.6" fill="#ff3090" opacity="0.8" filter="url(#d1)"/>
<circle cx="618.3" cy="181.9" r="1.9" fill="#d040e0" opacity="0.8" filter="url(#d1)"/>
<circle cx="390.4" cy="69.0" r="2.0" fill="#e02080" opacity="0.8" filter="url(#d1)"/>
<circle cx="584.2" cy="99.8" r="1.9" fill="#ff3090" opacity="0.8" filter="url(#d1)"/>
<circle cx="519.9" cy="114.3" r="1.6" fill="#ff50b0" opacity="0.8" filter="url(#d1)"/>
<circle cx="523.2" cy="73.7" r="1.5" fill="#e02080" opacity="0.8" filter="url(#d1)"/>
<circle cx="658.3" cy="218.4" r="1.7" fill="#e02080" opacity="0.8" filter="url(#d1)"/>
<circle cx="566.0" cy="114.6" r="2.0" fill="#d040e0" opacity="0.8" filter="url(#d1)"/>
<circle cx="671.9" cy="225.2" r="1.6" fill="#ff3090" opacity="0.8" filter="url(#d1)"/>
<circle cx="569.1" cy="130.5" r="1.6" fill="#e02080" opacity="0.8" filter="url(#d1)"/>
<circle cx="522.0" cy="165.6" r="1.4" fill="#e02080" opacity="0.8" filter="url(#d1)"/>
<circle cx="513.8" cy="217.9" r="1.7" fill="#e02080" opacity="0.8" filter="url(#d1)"/>
<circle cx="456.1" cy="122.4" r="1.4" fill="#ff50b0" opacity="0.8" filter="url(#d1)"/>
<circle cx="551.1" cy="99.3" r="2.1" fill="#ff50b0" opacity="0.8" filter="url(#d1)"/>
<circle cx="526.2" cy="103.6" r="2.2" fill="#ff3090" opacity="0.8" filter="url(#d1)"/>
<circle cx="420.9" cy="142.7" r="1.9" fill="#e02080" opacity="0.8" filter="url(#d1)"/>
<circle cx="547.7" cy="207.1" r="1.3" fill="#e02080" opacity="0.8" filter="url(#d1)"/>
<circle cx="675.9" cy="126.4" r="1.5" fill="#e02080" opacity="0.8" filter="url(#d1)"/>
<circle cx="463.3" cy="219.2" r="1.3" fill="#ff50b0" opacity="0.8" filter="url(#d1)"/>
<circle cx="418.0" cy="168.0" r="1.7" fill="#ff50b0" opacity="0.8" filter="url(#d1)"/>
<circle cx="532.4" cy="128.6" r="2.1" fill="#ff50b0" opacity="0.8" filter="url(#d1)"/>
<circle cx="431.0" cy="127.0" r="2.2" fill="#e02080" opacity="0.8" filter="url(#d1)"/>
<circle cx="459.4" cy="76.1" r="2.1" fill="#e02080" opacity="0.8" filter="url(#d1)"/>
<circle cx="595.0" cy="79.3" r="1.3" fill="#ff3090" opacity="0.8" filter="url(#d1)"/>
<circle cx="650.5" cy="186.2" r="2.0" fill="#e02080" opacity="0.8" filter="url(#d1)"/>
<circle cx="437.3" cy="162.5" r="2.0" fill="#e02080" opacity="0.8" filter="url(#d1)"/>
<circle cx="554.9" cy="80.5" r="1.3" fill="#d040e0" opacity="0.8" filter="url(#d1)"/>
<circle cx="635.4" cy="223.2" r="1.8" fill="#ff50b0" opacity="0.8" filter="url(#d1)"/>
<circle cx="477.6" cy="208.4" r="2.2" fill="#d040e0" opacity="0.8" filter="url(#d1)"/>
<circle cx="401.2" cy="121.9" r="2.0" fill="#e02080" opacity="0.8" filter="url(#d1)"/>
<circle cx="431.0" cy="206.3" r="1.6" fill="#e02080" opacity="0.8" filter="url(#d1)"/>
<circle cx="592.1" cy="155.0" r="2.1" fill="#ff50b0" opacity="0.8" filter="url(#d1)"/>
<circle cx="535.2" cy="129.2" r="1.8" fill="#ff3090" opacity="0.8" filter="url(#d1)"/>
<circle cx="484.3" cy="88.9" r="2.1" fill="#ff50b0" opacity="0.8" filter="url(#d1)"/>
<circle cx="616.1" cy="213.6" r="1.8" fill="#ff3090" opacity="0.8" filter="url(#d1)"/>
<circle cx="464.0" cy="61.5" r="2.0" fill="#d040e0" opacity="0.8" filter="url(#d1)"/>
<circle cx="533.2" cy="146.1" r="1.8" fill="#ff3090" opacity="0.8" filter="url(#d1)"/>
<circle cx="449.0" cy="57.7" r="1.9" fill="#e02080" opacity="0.8" filter="url(#d1)"/>
<circle cx="405.0" cy="90.1" r="2.1" fill="#ff3090" opacity="0.8" filter="url(#d1)"/>
<circle cx="603.5" cy="92.3" r="2.1" fill="#d040e0" opacity="0.8" filter="url(#d1)"/>
<circle cx="536.1" cy="180.5" r="1.3" fill="#ff3090" opacity="0.8" filter="url(#d1)"/>
<circle cx="411.4" cy="138.7" r="1.8" fill="#ff50b0" opacity="0.8" filter="url(#d1)"/>
<circle cx="407.3" cy="64.3" r="2.2" fill="#e02080" opacity="0.8" filter="url(#d1)"/>
<circle cx="551.7" cy="189.3" r="1.4" fill="#ff3090" opacity="0.8" filter="url(#d1)"/>
<circle cx="665.5" cy="117.7" r="1.7" fill="#ff3090" opacity="0.8" filter="url(#d1)"/>
<circle cx="496.4" cy="228.3" r="2.1" fill="#ff50b0" opacity="0.8" filter="url(#d1)"/>
<circle cx="498.0" cy="207.7" r="2.0" fill="#ff50b0" opacity="0.8" filter="url(#d1)"/>
<circle cx="627.3" cy="209.5" r="1.3" fill="#e02080" opacity="0.8" filter="url(#d1)"/>
<circle cx="671.9" cy="226.9" r="1.5" fill="#d040e0" opacity="0.8" filter="url(#d1)"/>
<circle cx="407.0" cy="77.5" r="1.6" fill="#e02080" opacity="0.8" filter="url(#d1)"/>
<circle cx="530.5" cy="44.2" r="1.4" fill="#d040e0" opacity="0.8" filter="url(#d1)"/>
<circle cx="615.3" cy="227.4" r="1.9" fill="#ff3090" opacity="0.8" filter="url(#d1)"/>
<circle cx="383.7" cy="168.3" r="1.5" fill="#ff50b0" opacity="0.8" filter="url(#d1)"/>
<circle cx="569.0" cy="201.3" r="1.2" fill="#ff3090" opacity="0.8" filter="url(#d1)"/>
<circle cx="451.2" cy="144.1" r="1.7" fill="#ff3090" opacity="0.8" filter="url(#d1)"/>
<circle cx="462.7" cy="101.1" r="1.9" fill="#ff3090" opacity="0.8" filter="url(#d1)"/>
<circle cx="660.4" cy="220.3" r="1.3" fill="#e02080" opacity="0.8" filter="url(#d1)"/>
<circle cx="510.3" cy="142.3" r="2.2" fill="#d040e0" opacity="0.8" filter="url(#d1)"/>
<circle cx="553.1" cy="94.8" r="2.0" fill="#ff50b0" opacity="0.8" filter="url(#d1)"/>
<circle cx="635.0" cy="162.0" r="1.8" fill="#d040e0" opacity="0.8" filter="url(#d1)"/>
<circle cx="435.8" cy="182.1" r="1.7" fill="#ff50b0" opacity="0.8" filter="url(#d1)"/>
<circle cx="564.2" cy="133.8" r="1.5" fill="#e02080" opacity="0.8" filter="url(#d1)"/>
<circle cx="477.1" cy="77.8" r="1.8" fill="#d040e0" opacity="0.8" filter="url(#d1)"/>
<circle cx="376.7" cy="110.5" r="2.1" fill="#e02080" opacity="0.8" filter="url(#d1)"/>
<circle cx="474.1" cy="105.1" r="1.5" fill="#e02080" opacity="0.8" filter="url(#d1)"/>
<circle cx="465.2" cy="194.4" r="1.4" fill="#ff3090" opacity="0.8" filter="url(#d1)"/>
<circle cx="562.0" cy="109.6" r="1.9" fill="#d040e0" opacity="0.8" filter="url(#d1)"/>
<circle cx="633.3" cy="110.8" r="2.0" fill="#e02080" opacity="0.8" filter="url(#d1)"/>
<circle cx="681.7" cy="175.5" r="2.2" fill="#d040e0" opacity="0.8" filter="url(#d1)"/>
<circle cx="478.1" cy="110.5" r="1.9" fill="#ff50b0" opacity="0.8" filter="url(#d1)"/>
<circle cx="629.2" cy="143.6" r="2.0" fill="#d040e0" opacity="0.8" filter="url(#d1)"/>
<circle cx="456.8" cy="166.1" r="1.9" fill="#e02080" opacity="0.8" filter="url(#d1)"/>
<circle cx="501.9" cy="60.7" r="1.7" fill="#ff3090" opacity="0.8" filter="url(#d1)"/>
<circle cx="528.3" cy="232.5" r="1.8" fill="#d040e0" opacity="0.8" filter="url(#d1)"/>
<circle cx="638.2" cy="95.9" r="1.9" fill="#ff3090" opacity="0.8" filter="url(#d1)"/>
<circle cx="491.4" cy="130.5" r="1.7" fill="#ff50b0" opacity="0.8" filter="url(#d1)"/>
<circle cx="464.4" cy="118.1" r="1.8" fill="#d040e0" opacity="0.8" filter="url(#d1)"/>
<circle cx="605.7" cy="237.9" r="1.6" fill="#ff50b0" opacity="0.8" filter="url(#d1)"/>
<circle cx="430.5" cy="100.8" r="1.4" fill="#d040e0" opacity="0.8" filter="url(#d1)"/>
<circle cx="554.5" cy="57.6" r="2.2" fill="#ff50b0" opacity="0.8" filter="url(#d1)"/>
<circle cx="675.3" cy="161.6" r="1.5" fill="#ff50b0" opacity="0.8" filter="url(#d1)"/>
<circle cx="436.7" cy="125.3" r="2.2" fill="#ff3090" opacity="0.8" filter="url(#d1)"/>
<circle cx="381.0" cy="91.3" r="2.2" fill="#ff50b0" opacity="0.8" filter="url(#d1)"/>
<circle cx="660.1" cy="194.7" r="1.8" fill="#d040e0" opacity="0.8" filter="url(#d1)"/>
<circle cx="534.4" cy="143.5" r="2.0" fill="#d040e0" opacity="0.8" filter="url(#d1)"/>
<circle cx="517.8" cy="48.1" r="1.9" fill="#d040e0" opacity="0.8" filter="url(#d1)"/>
<circle cx="668.7" cy="175.3" r="1.8" fill="#ff3090" opacity="0.8" filter="url(#d1)"/>
<circle cx="500.8" cy="140.2" r="1.9" fill="#e02080" opacity="0.8" filter="url(#d1)"/>
<circle cx="647.5" cy="232.9" r="1.7" fill="#d040e0" opacity="0.8" filter="url(#d1)"/>
<circle cx="612.4" cy="219.8" r="1.8" fill="#ff3090" opacity="0.8" filter="url(#d1)"/>
<circle cx="426.3" cy="103.6" r="2.3" fill="#ff50b0" opacity="0.8" filter="url(#d1)"/>
<circle cx="532.9" cy="62.1" r="2.2" fill="#ff50b0" opacity="0.8" filter="url(#d1)"/>
<circle cx="629.0" cy="238.0" r="2.2" fill="#d040e0" opacity="0.8" filter="url(#d1)"/>
<circle cx="569.9" cy="144.8" r="2.1" fill="#e02080" opacity="0.8" filter="url(#d1)"/>
<circle cx="530.5" cy="77.6" r="1.4" fill="#ff3090" opacity="0.8" filter="url(#d1)"/>
<circle cx="483.2" cy="238.7" r="1.9" fill="#ff3090" opacity="0.8" filter="url(#d1)"/>
<circle cx="545.5" cy="223.4" r="1.6" fill="#ff3090" opacity="0.8" filter="url(#d1)"/>
<circle cx="555.9" cy="173.6" r="1.4" fill="#d040e0" opacity="0.8" filter="url(#d1)"/>
<circle cx="612.9" cy="153.4" r="2.2" fill="#e02080" opacity="0.8" filter="url(#d1)"/>
<circle cx="552.2" cy="122.2" r="1.3" fill="#e02080" opacity="0.8" filter="url(#d1)"/>
<circle cx="534.7" cy="141.9" r="1.2" fill="#ff3090" opacity="0.8" filter="url(#d1)"/>
<circle cx="426.2" cy="144.5" r="2.1" fill="#d040e0" opacity="0.8" filter="url(#d1)"/>
<circle cx="473.7" cy="183.1" r="1.6" fill="#e02080" opacity="0.8" filter="url(#d1)"/>
<circle cx="383.3" cy="165.7" r="2.1" fill="#ff3090" opacity="0.8" filter="url(#d1)"/>
<circle cx="481.9" cy="130.0" r="1.6" fill="#ff3090" opacity="0.8" filter="url(#d1)"/>
<circle cx="441.7" cy="119.2" r="2.0" fill="#ff3090" opacity="0.8" filter="url(#d1)"/>
<circle cx="510.2" cy="164.0" r="1.5" fill="#ff3090" opacity="0.8" filter="url(#d1)"/>
<circle cx="422.7" cy="157.4" r="1.4" fill="#ff3090" opacity="0.8" filter="url(#d1)"/>
<circle cx="653.4" cy="203.2" r="1.5" fill="#ff50b0" opacity="0.8" filter="url(#d1)"/>
<circle cx="672.5" cy="139.1" r="2.2" fill="#e02080" opacity="0.8" filter="url(#d1)"/>
<circle cx="584.3" cy="175.0" r="1.8" fill="#d040e0" opacity="0.8" filter="url(#d1)"/>
<circle cx="469.5" cy="215.1" r="1.7" fill="#e02080" opacity="0.8" filter="url(#d1)"/>
<circle cx="400.3" cy="74.0" r="1.6" fill="#ff3090" opacity="0.8" filter="url(#d1)"/>
<circle cx="548.2" cy="63.0" r="1.8" fill="#d040e0" opacity="0.8" filter="url(#d1)"/>
<circle cx="477.8" cy="170.3" r="2.3" fill="#d040e0" opacity="0.8" filter="url(#d1)"/>
<circle cx="630.7" cy="110.2" r="1.5" fill="#e02080" opacity="0.8" filter="url(#d1)"/>
<circle cx="518.7" cy="108.9" r="1.7" fill="#ff50b0" opacity="0.8" filter="url(#d1)"/>
<circle cx="580.3" cy="108.3" r="1.4" fill="#e02080" opacity="0.8" filter="url(#d1)"/>
<circle cx="401.9" cy="93.9" r="2.1" fill="#e02080" opacity="0.8" filter="url(#d1)"/>
<circle cx="546.2" cy="133.4" r="2.1" fill="#e02080" opacity="0.8" filter="url(#d1)"/>
<circle cx="422.7" cy="110.6" r="2.0" fill="#d040e0" opacity="0.8" filter="url(#d1)"/>
<circle cx="569.4" cy="156.1" r="1.5" fill="#d040e0" opacity="0.8" filter="url(#d1)"/>
<circle cx="530.5" cy="85.5" r="1.7" fill="#e02080" opacity="0.8" filter="url(#d1)"/>
<circle cx="666.9" cy="239.6" r="1.9" fill="#d040e0" opacity="0.8" filter="url(#d1)"/>
<circle cx="556.3" cy="113.6" r="1.5" fill="#e02080" opacity="0.8" filter="url(#d1)"/>
<circle cx="412.2" cy="190.1" r="1.9" fill="#ff3090" opacity="0.8" filter="url(#d1)"/>
<circle cx="542.3" cy="94.1" r="2.0" fill="#d040e0" opacity="0.8" filter="url(#d1)"/>
<circle cx="418.3" cy="43.0" r="2.0" fill="#e02080" opacity="0.8" filter="url(#d1)"/>
<circle cx="615.2" cy="86.3" r="1.4" fill="#ff3090" opacity="0.8" filter="url(#d1)"/>
<circle cx="624.2" cy="191.7" r="1.4" fill="#ff50b0" opacity="0.8" filter="url(#d1)"/>
<circle cx="400.4" cy="97.7" r="2.1" fill="#d040e0" opacity="0.8" filter="url(#d1)"/>
<circle cx="461.1" cy="120.7" r="2.2" fill="#e02080" opacity="0.8" filter="url(#d1)"/>
<circle cx="487.4" cy="199.9" r="2.0" fill="#d040e0" opacity="0.8" filter="url(#d1)"/>
<circle cx="380.9" cy="180.8" r="1.7" fill="#d040e0" opacity="0.8" filter="url(#d1)"/>
<circle cx="482.9" cy="165.8" r="1.4" fill="#ff3090" opacity="0.8" filter="url(#d1)"/>
<circle cx="457.5" cy="161.8" r="1.4" fill="#ff3090" opacity="0.8" filter="url(#d1)"/>
<circle cx="499.3" cy="161.7" r="1.7" fill="#ff50b0" opacity="0.8" filter="url(#d1)"/>
<circle cx="421.7" cy="187.7" r="1.8" fill="#e02080" opacity="0.8" filter="url(#d1)"/>
<circle cx="549.1" cy="85.5" r="1.7" fill="#ff50b0" opacity="0.8" filter="url(#d1)"/>
<circle cx="464.9" cy="120.0" r="1.8" fill="#30ff50" opacity="0.9" filter="url(#d1)"/>
<circle cx="438.4" cy="125.7" r="2.1" fill="#30ff50" opacity="0.9" filter="url(#d1)"/>
<circle cx="388.9" cy="106.6" r="2.2" fill="#30ff50" opacity="0.9" filter="url(#d1)"/>
<circle cx="385.2" cy="118.6" r="2.4" fill="#30ff50" opacity="0.9" filter="url(#d1)"/>
<circle cx="421.5" cy="125.0" r="1.5" fill="#30ff50" opacity="0.9" filter="url(#d1)"/>
<circle cx="429.7" cy="117.1" r="2.3" fill="#30ff50" opacity="0.9" filter="url(#d1)"/>
<circle cx="382.0" cy="137.8" r="2.4" fill="#30ff50" opacity="0.9" filter="url(#d1)"/>
<circle cx="409.1" cy="122.4" r="1.8" fill="#30ff50" opacity="0.9" filter="url(#d1)"/>
<circle cx="382.3" cy="151.8" r="1.7" fill="#30ff50" opacity="0.9" filter="url(#d1)"/>
<circle cx="405.9" cy="140.0" r="2.0" fill="#30ff50" opacity="0.9" filter="url(#d1)"/>
<circle cx="447.3" cy="113.7" r="1.8" fill="#30ff50" opacity="0.9" filter="url(#d1)"/>
<circle cx="415.9" cy="120.7" r="2.0" fill="#30ff50" opacity="0.9" filter="url(#d1)"/>
<circle cx="454.7" cy="110.9" r="1.7" fill="#30ff50" opacity="0.9" filter="url(#d1)"/>
<circle cx="452.5" cy="155.5" r="2.2" fill="#30ff50" opacity="0.9" filter="url(#d1)"/>
<circle cx="407.7" cy="125.3" r="1.3" fill="#30ff50" opacity="0.9" filter="url(#d1)"/>
<circle cx="429.2" cy="119.4" r="1.4" fill="#30ff50" opacity="0.9" filter="url(#d1)"/>
<circle cx="442.7" cy="126.3" r="1.6" fill="#30ff50" opacity="0.9" filter="url(#d1)"/>
<circle cx="460.7" cy="137.4" r="1.3" fill="#30ff50" opacity="0.9" filter="url(#d1)"/>
<circle cx="411.5" cy="115.2" r="1.7" fill="#30ff50" opacity="0.9" filter="url(#d1)"/>
<circle cx="424.1" cy="126.7" r="2.0" fill="#30ff50" opacity="0.9" filter="url(#d1)"/>
<circle cx="453.8" cy="140.7" r="2.0" fill="#30ff50" opacity="0.9" filter="url(#d1)"/>
<circle cx="456.5" cy="142.0" r="1.9" fill="#30ff50" opacity="0.9" filter="url(#d1)"/>
<circle cx="427.4" cy="144.9" r="1.3" fill="#30ff50" opacity="0.9" filter="url(#d1)"/>
<circle cx="361.4" cy="141.0" r="2.0" fill="#30ff50" opacity="0.9" filter="url(#d1)"/>
<circle cx="472.1" cy="155.6" r="2.2" fill="#30ff50" opacity="0.9" filter="url(#d1)"/>
<circle cx="408.1" cy="132.5" r="2.0" fill="#30ff50" opacity="0.9" filter="url(#d1)"/>
<circle cx="459.5" cy="129.1" r="1.2" fill="#30ff50" opacity="0.9" filter="url(#d1)"/>
<circle cx="445.3" cy="121.8" r="1.2" fill="#30ff50" opacity="0.9" filter="url(#d1)"/>
<circle cx="397.1" cy="156.7" r="1.3" fill="#30ff50" opacity="0.9" filter="url(#d1)"/>
<circle cx="388.4" cy="133.3" r="1.5" fill="#30ff50" opacity="0.9" filter="url(#d1)"/>
<circle cx="416.4" cy="126.7" r="1.7" fill="#30ff50" opacity="0.9" filter="url(#d1)"/>
<circle cx="459.3" cy="126.3" r="2.1" fill="#30ff50" opacity="0.9" filter="url(#d1)"/>
<circle cx="400.8" cy="145.1" r="1.4" fill="#30ff50" opacity="0.9" filter="url(#d1)"/>
<circle cx="379.0" cy="104.2" r="1.7" fill="#30ff50" opacity="0.9" filter="url(#d1)"/>
<circle cx="430.6" cy="117.7" r="1.6" fill="#30ff50" opacity="0.9" filter="url(#d1)"/>
<circle cx="445.7" cy="133.3" r="1.9" fill="#30ff50" opacity="0.9" filter="url(#d1)"/>
<circle cx="419.4" cy="109.5" r="1.9" fill="#30ff50" opacity="0.9" filter="url(#d1)"/>
<circle cx="468.9" cy="137.4" r="1.1" fill="#30ff50" opacity="0.9" filter="url(#d1)"/>
<circle cx="411.7" cy="132.1" r="1.6" fill="#30ff50" opacity="0.9" filter="url(#d1)"/>
<circle cx="460.6" cy="124.5" r="2.3" fill="#30ff50" opacity="0.9" filter="url(#d1)"/>
<circle cx="585.8" cy="78.4" r="1.7" fill="#ffe080" opacity="0.85" filter="url(#d1)"/>
<circle cx="604.6" cy="118.8" r="1.2" fill="#ffe080" opacity="0.85" filter="url(#d1)"/>
<circle cx="472.9" cy="126.3" r="1.6" fill="#ffe080" opacity="0.85" filter="url(#d1)"/>
<circle cx="634.4" cy="105.6" r="1.1" fill="#ffc040" opacity="0.85" filter="url(#d1)"/>
<circle cx="549.9" cy="173.1" r="1.8" fill="#ffe080" opacity="0.85" filter="url(#d1)"/>
<circle cx="655.4" cy="230.1" r="1.5" fill="#ffe080" opacity="0.85" filter="url(#d1)"/>
<circle cx="601.0" cy="239.2" r="1.6" fill="#ffc040" opacity="0.85" filter="url(#d1)"/>
<circle cx="417.3" cy="100.9" r="1.1" fill="#ffe080" opacity="0.85" filter="url(#d1)"/>
<circle cx="401.0" cy="67.2" r="1.4" fill="#ffc040" opacity="0.85" filter="url(#d1)"/>
<circle cx="441.1" cy="127.0" r="1.0" fill="#ffe080" opacity="0.85" filter="url(#d1)"/>
<circle cx="417.7" cy="73.0" r="1.1" fill="#ffe080" opacity="0.85" filter="url(#d1)"/>
<circle cx="428.0" cy="190.5" r="1.4" fill="#ffc040" opacity="0.85" filter="url(#d1)"/>
<circle cx="511.3" cy="161.4" r="1.3" fill="#ffc040" opacity="0.85" filter="url(#d1)"/>
<circle cx="519.3" cy="157.7" r="1.5" fill="#ffe080" opacity="0.85" filter="url(#d1)"/>
<circle cx="676.0" cy="223.6" r="1.9" fill="#ffe080" opacity="0.85" filter="url(#d1)"/>
<circle cx="673.1" cy="171.6" r="1.8" fill="#ffc040" opacity="0.85" filter="url(#d1)"/>
<circle cx="598.5" cy="119.7" r="1.7" fill="#ffe080" opacity="0.85" filter="url(#d1)"/>
<circle cx="670.3" cy="146.5" r="1.6" fill="#ffe080" opacity="0.85" filter="url(#d1)"/>
<circle cx="643.0" cy="155.5" r="1.6" fill="#ffc040" opacity="0.85" filter="url(#d1)"/>
<circle cx="442.4" cy="193.1" r="1.7" fill="#ffc040" opacity="0.85" filter="url(#d1)"/>
<circle cx="579.1" cy="127.0" r="1.6" fill="#ffe080" opacity="0.85" filter="url(#d1)"/>
<circle cx="485.3" cy="103.2" r="1.4" fill="#ffe080" opacity="0.85" filter="url(#d1)"/>
<circle cx="408.6" cy="92.5" r="1.9" fill="#ffc040" opacity="0.85" filter="url(#d1)"/>
</g>
<rect x="250" y="6.5" width="242" height="28" fill="#000"/>
<text x="253.6" y="29" font-family="Liberation Sans, sans-serif" font-weight="bold" font-size="22.5" fill="#22ff22" textLength="41.5" lengthAdjust="spacingAndGlyphs">CD4</text>
<text x="307.6" y="29" font-family="Liberation Sans, sans-serif" font-weight="bold" font-size="22.5" fill="#ffff1a" textLength="43.8" lengthAdjust="spacingAndGlyphs">CD8</text>
<text x="365.2" y="29" font-family="Liberation Sans, sans-serif" font-weight="bold" font-size="22.5" fill="#ff1010" textLength="41" lengthAdjust="spacingAndGlyphs">CD3</text>
<text x="418.4" y="29" font-family="Liberation Sans, sans-serif" font-weight="bold" font-size="22.5" fill="#ff1aa0" textLength="67.6" lengthAdjust="spacingAndGlyphs">CD45R</text>
<rect x="344.7" y="35.1" width="53.6" height="23.4" fill="#fff"/>
<text x="349.4" y="52.9" font-family="Liberation Sans, sans-serif" font-weight="bold" font-size="21.5" fill="#1010ff" textLength="46.4" lengthAdjust="spacingAndGlyphs">DAPI</text>
<text x="62.5" y="232" font-family="Liberation Sans, sans-serif" font-weight="bold" font-size="22" fill="#fff">WT</text>
<text x="383" y="232.1" font-family="Liberation Sans, sans-serif" font-weight="bold" font-size="22" fill="#fff">TG</text>
<line x1="163.80" y1="284.00" x2="163.80" y2="416.80" stroke="#111" stroke-width="2"/>
<line x1="159.30" y1="415.80" x2="370.00" y2="415.80" stroke="#111" stroke-width="2"/>
<text x="156.2" y="416.5" font-size="12" font-weight="bold" text-anchor="end" fill="#231f20" >0</text>
<line x1="159.30" y1="389.44" x2="163.80" y2="389.44" stroke="#111" stroke-width="2"/>
<text x="156.2" y="390.1" font-size="12" font-weight="bold" text-anchor="end" fill="#231f20" >2</text>
<line x1="159.30" y1="363.08" x2="163.80" y2="363.08" stroke="#111" stroke-width="2"/>
<text x="156.2" y="363.7" font-size="12" font-weight="bold" text-anchor="end" fill="#231f20" >4</text>
<line x1="159.30" y1="336.72" x2="163.80" y2="336.72" stroke="#111" stroke-width="2"/>
<text x="156.2" y="337.3" font-size="12" font-weight="bold" text-anchor="end" fill="#231f20" >6</text>
<line x1="159.30" y1="310.36" x2="163.80" y2="310.36" stroke="#111" stroke-width="2"/>
<text x="156.2" y="310.9" font-size="12" font-weight="bold" text-anchor="end" fill="#231f20" >8</text>
<line x1="159.30" y1="284.00" x2="163.80" y2="284.00" stroke="#111" stroke-width="2"/>
<text x="156.2" y="284.5" font-size="12" font-weight="bold" text-anchor="end" fill="#231f20" >10</text>
<line x1="215.20" y1="415.80" x2="215.20" y2="420.30" stroke="#111" stroke-width="2"/>
<text x="212.9" y="432.0" font-size="13.6" font-weight="bold" text-anchor="middle" fill="#231f20" >CD3</text>
<line x1="317.70" y1="415.80" x2="317.70" y2="420.30" stroke="#111" stroke-width="2"/>
<text x="315.4" y="432.0" font-size="13.6" font-weight="bold" text-anchor="middle" fill="#231f20" >CD45R</text>
<line x1="195.90" y1="388.78" x2="195.90" y2="382.19" stroke="#111" stroke-width="2"/>
<line x1="188.90" y1="382.19" x2="202.90" y2="382.19" stroke="#111" stroke-width="2"/>
<rect x="183.90" y="388.78" width="24.00" height="27.02" fill="#8fb9e4" stroke="#111" stroke-width="2"/>
<line x1="234.45" y1="396.69" x2="234.45" y2="389.44" stroke="#111" stroke-width="2"/>
<line x1="227.45" y1="389.44" x2="241.45" y2="389.44" stroke="#111" stroke-width="2"/>
<rect x="222.40" y="396.69" width="24.10" height="19.11" fill="#1f3a8f" stroke="#111" stroke-width="2"/>
<line x1="298.40" y1="369.93" x2="298.40" y2="354.12" stroke="#111" stroke-width="2"/>
<line x1="291.40" y1="354.12" x2="305.40" y2="354.12" stroke="#111" stroke-width="2"/>
<rect x="286.40" y="369.93" width="24.00" height="45.87" fill="#8fb9e4" stroke="#111" stroke-width="2"/>
<line x1="336.95" y1="360.71" x2="336.95" y2="349.90" stroke="#111" stroke-width="2"/>
<line x1="329.95" y1="349.90" x2="343.95" y2="349.90" stroke="#111" stroke-width="2"/>
<rect x="324.90" y="360.71" width="24.10" height="55.09" fill="#1f3a8f" stroke="#111" stroke-width="2"/>
<text x="349.5" y="301.4" font-size="20" font-weight="bold" text-anchor="start" fill="#000" >a</text>
<line x1="402.80" y1="284.20" x2="402.80" y2="416.70" stroke="#111" stroke-width="2"/>
<line x1="398.30" y1="415.70" x2="608.50" y2="415.70" stroke="#111" stroke-width="2"/>
<text x="394.2" y="414.6" font-size="12" font-weight="bold" text-anchor="end" fill="#231f20" >0</text>
<line x1="398.30" y1="389.40" x2="402.80" y2="389.40" stroke="#111" stroke-width="2"/>
<text x="394.2" y="389.2" font-size="12" font-weight="bold" text-anchor="end" fill="#231f20" >5</text>
<line x1="398.30" y1="363.10" x2="402.80" y2="363.10" stroke="#111" stroke-width="2"/>
<text x="394.2" y="363.8" font-size="12" font-weight="bold" text-anchor="end" fill="#231f20" >10</text>
<line x1="398.30" y1="336.80" x2="402.80" y2="336.80" stroke="#111" stroke-width="2"/>
<text x="394.2" y="338.4" font-size="12" font-weight="bold" text-anchor="end" fill="#231f20" >15</text>
<line x1="398.30" y1="310.50" x2="402.80" y2="310.50" stroke="#111" stroke-width="2"/>
<text x="394.2" y="313.0" font-size="12" font-weight="bold" text-anchor="end" fill="#231f20" >20</text>
<line x1="398.30" y1="284.20" x2="402.80" y2="284.20" stroke="#111" stroke-width="2"/>
<text x="394.2" y="287.6" font-size="12" font-weight="bold" text-anchor="end" fill="#231f20" >25</text>
<line x1="454.00" y1="415.70" x2="454.00" y2="420.20" stroke="#111" stroke-width="2"/>
<text x="452.7" y="432.0" font-size="13.6" font-weight="bold" text-anchor="middle" fill="#231f20" >CD3</text>
<line x1="556.40" y1="415.70" x2="556.40" y2="420.20" stroke="#111" stroke-width="2"/>
<text x="555.1" y="432.0" font-size="13.6" font-weight="bold" text-anchor="middle" fill="#231f20" >CD19</text>
<line x1="434.70" y1="334.43" x2="434.70" y2="297.35" stroke="#111" stroke-width="2"/>
<line x1="427.70" y1="297.35" x2="441.70" y2="297.35" stroke="#111" stroke-width="2"/>
<rect x="422.70" y="334.43" width="24.00" height="81.27" fill="#ffffff" stroke="#111" stroke-width="2"/>
<line x1="473.25" y1="332.59" x2="473.25" y2="314.18" stroke="#111" stroke-width="2"/>
<line x1="466.25" y1="314.18" x2="480.25" y2="314.18" stroke="#111" stroke-width="2"/>
<rect x="461.20" y="332.59" width="24.10" height="83.11" fill="#9d9da1" stroke="#111" stroke-width="2"/>
<line x1="537.10" y1="385.82" x2="537.10" y2="363.78" stroke="#111" stroke-width="2"/>
<line x1="530.10" y1="363.78" x2="544.10" y2="363.78" stroke="#111" stroke-width="2"/>
<rect x="525.10" y="385.82" width="24.00" height="29.88" fill="#ffffff" stroke="#111" stroke-width="2"/>
<line x1="575.65" y1="398.61" x2="575.65" y2="389.14" stroke="#111" stroke-width="2"/>
<line x1="568.65" y1="389.14" x2="582.65" y2="389.14" stroke="#111" stroke-width="2"/>
<rect x="563.60" y="398.61" width="24.10" height="17.09" fill="#9d9da1" stroke="#111" stroke-width="2"/>
<text x="598.5" y="301.4" font-size="20" font-weight="bold" text-anchor="start" fill="#000" >e</text>
<line x1="162.90" y1="446.10" x2="162.90" y2="579.10" stroke="#111" stroke-width="2"/>
<line x1="158.40" y1="578.10" x2="368.30" y2="578.10" stroke="#111" stroke-width="2"/>
<text x="156.2" y="579.9" font-size="12" font-weight="bold" text-anchor="end" fill="#231f20" >0</text>
<line x1="158.40" y1="551.70" x2="162.90" y2="551.70" stroke="#111" stroke-width="2"/>
<text x="156.2" y="553.5" font-size="12" font-weight="bold" text-anchor="end" fill="#231f20" >2</text>
<line x1="158.40" y1="525.30" x2="162.90" y2="525.30" stroke="#111" stroke-width="2"/>
<text x="156.2" y="527.1" font-size="12" font-weight="bold" text-anchor="end" fill="#231f20" >4</text>
<line x1="158.40" y1="498.90" x2="162.90" y2="498.90" stroke="#111" stroke-width="2"/>
<text x="156.2" y="500.6" font-size="12" font-weight="bold" text-anchor="end" fill="#231f20" >6</text>
<line x1="158.40" y1="472.50" x2="162.90" y2="472.50" stroke="#111" stroke-width="2"/>
<text x="156.2" y="474.2" font-size="12" font-weight="bold" text-anchor="end" fill="#231f20" >8</text>
<line x1="158.40" y1="446.10" x2="162.90" y2="446.10" stroke="#111" stroke-width="2"/>
<text x="156.2" y="447.8" font-size="12" font-weight="bold" text-anchor="end" fill="#231f20" >10</text>
<line x1="196.80" y1="578.10" x2="196.80" y2="582.60" stroke="#111" stroke-width="2"/>
<text x="198.3" y="596.4" font-size="13.6" font-weight="bold" text-anchor="middle" fill="#231f20" >CD4</text>
<line x1="265.10" y1="578.10" x2="265.10" y2="582.60" stroke="#111" stroke-width="2"/>
<text x="266.6" y="596.4" font-size="13.6" font-weight="bold" text-anchor="middle" fill="#231f20" >CD8</text>
<line x1="333.60" y1="578.10" x2="333.60" y2="582.60" stroke="#111" stroke-width="2"/>
<text x="335.1" y="596.4" font-size="13.6" font-weight="bold" text-anchor="middle" fill="#231f20" >DN</text>
<line x1="184.10" y1="505.50" x2="184.10" y2="487.02" stroke="#111" stroke-width="2"/>
<line x1="179.80" y1="487.02" x2="188.40" y2="487.02" stroke="#111" stroke-width="2"/>
<rect x="176.20" y="505.50" width="15.80" height="72.60" fill="#8fb9e4" stroke="#111" stroke-width="2"/>
<line x1="209.80" y1="497.58" x2="209.80" y2="484.78" stroke="#111" stroke-width="2"/>
<line x1="205.50" y1="484.78" x2="214.10" y2="484.78" stroke="#111" stroke-width="2"/>
<rect x="201.90" y="497.58" width="15.80" height="80.52" fill="#1f3a8f" stroke="#111" stroke-width="2"/>
<line x1="252.40" y1="576.78" x2="252.40" y2="575.99" stroke="#111" stroke-width="2"/>
<line x1="248.10" y1="575.99" x2="256.70" y2="575.99" stroke="#111" stroke-width="2"/>
<rect x="244.50" y="576.78" width="15.80" height="1.32" fill="#8fb9e4" stroke="#111" stroke-width="2"/>
<line x1="278.10" y1="576.78" x2="278.10" y2="576.25" stroke="#111" stroke-width="2"/>
<line x1="273.80" y1="576.25" x2="282.40" y2="576.25" stroke="#111" stroke-width="2"/>
<rect x="270.20" y="576.78" width="15.80" height="1.32" fill="#1f3a8f" stroke="#111" stroke-width="2"/>
<line x1="320.90" y1="563.18" x2="320.90" y2="556.98" stroke="#111" stroke-width="2"/>
<line x1="316.60" y1="556.98" x2="325.20" y2="556.98" stroke="#111" stroke-width="2"/>
<rect x="313.00" y="563.18" width="15.80" height="14.92" fill="#8fb9e4" stroke="#111" stroke-width="2"/>
<line x1="346.60" y1="565.30" x2="346.60" y2="558.04" stroke="#111" stroke-width="2"/>
<line x1="342.30" y1="558.04" x2="350.90" y2="558.04" stroke="#111" stroke-width="2"/>
<rect x="338.70" y="565.30" width="15.80" height="12.80" fill="#1f3a8f" stroke="#111" stroke-width="2"/>
<text x="350.0" y="456.3" font-size="20" font-weight="bold" text-anchor="start" fill="#000" >b</text>
<line x1="402.40" y1="447.50" x2="402.40" y2="580.60" stroke="#111" stroke-width="2"/>
<line x1="397.90" y1="579.60" x2="608.30" y2="579.60" stroke="#111" stroke-width="2"/>
<text x="395.7" y="581.0" font-size="12" font-weight="bold" text-anchor="end" fill="#231f20" >0</text>
<line x1="397.90" y1="546.58" x2="402.40" y2="546.58" stroke="#111" stroke-width="2"/>
<text x="395.7" y="547.8" font-size="12" font-weight="bold" text-anchor="end" fill="#231f20" >5</text>
<line x1="397.90" y1="513.55" x2="402.40" y2="513.55" stroke="#111" stroke-width="2"/>
<text x="395.7" y="514.6" font-size="12" font-weight="bold" text-anchor="end" fill="#231f20" >10</text>
<line x1="397.90" y1="480.52" x2="402.40" y2="480.52" stroke="#111" stroke-width="2"/>
<text x="395.7" y="481.4" font-size="12" font-weight="bold" text-anchor="end" fill="#231f20" >15</text>
<line x1="397.90" y1="447.50" x2="402.40" y2="447.50" stroke="#111" stroke-width="2"/>
<text x="395.7" y="448.2" font-size="12" font-weight="bold" text-anchor="end" fill="#231f20" >20</text>
<line x1="436.60" y1="579.60" x2="436.60" y2="584.10" stroke="#111" stroke-width="2"/>
<text x="438.2" y="597.1" font-size="13.6" font-weight="bold" text-anchor="middle" fill="#231f20" >CD4</text>
<line x1="505.00" y1="579.60" x2="505.00" y2="584.10" stroke="#111" stroke-width="2"/>
<text x="506.6" y="597.1" font-size="13.6" font-weight="bold" text-anchor="middle" fill="#231f20" >CD8</text>
<line x1="573.20" y1="579.60" x2="573.20" y2="584.10" stroke="#111" stroke-width="2"/>
<text x="574.8" y="597.1" font-size="13.6" font-weight="bold" text-anchor="middle" fill="#231f20" >DN</text>
<line x1="423.90" y1="498.36" x2="423.90" y2="464.01" stroke="#111" stroke-width="2"/>
<line x1="419.60" y1="464.01" x2="428.20" y2="464.01" stroke="#111" stroke-width="2"/>
<rect x="416.00" y="498.36" width="15.80" height="81.24" fill="#ffffff" stroke="#111" stroke-width="2"/>
<line x1="449.60" y1="493.07" x2="449.60" y2="472.60" stroke="#111" stroke-width="2"/>
<line x1="445.30" y1="472.60" x2="453.90" y2="472.60" stroke="#111" stroke-width="2"/>
<rect x="441.70" y="493.07" width="15.80" height="86.53" fill="#9d9da1" stroke="#111" stroke-width="2"/>
<line x1="492.30" y1="570.68" x2="492.30" y2="566.39" stroke="#111" stroke-width="2"/>
<line x1="488.00" y1="566.39" x2="496.60" y2="566.39" stroke="#111" stroke-width="2"/>
<rect x="484.40" y="570.68" width="15.80" height="8.92" fill="#ffffff" stroke="#111" stroke-width="2"/>
<line x1="518.00" y1="568.57" x2="518.00" y2="564.41" stroke="#111" stroke-width="2"/>
<line x1="513.70" y1="564.41" x2="522.30" y2="564.41" stroke="#111" stroke-width="2"/>
<rect x="510.10" y="568.57" width="15.80" height="11.03" fill="#9d9da1" stroke="#111" stroke-width="2"/>
<line x1="560.50" y1="567.38" x2="560.50" y2="558.46" stroke="#111" stroke-width="2"/>
<line x1="556.20" y1="558.46" x2="564.80" y2="558.46" stroke="#111" stroke-width="2"/>
<rect x="552.60" y="567.38" width="15.80" height="12.22" fill="#ffffff" stroke="#111" stroke-width="2"/>
<line x1="586.20" y1="572.33" x2="586.20" y2="570.22" stroke="#111" stroke-width="2"/>
<line x1="581.90" y1="570.22" x2="590.50" y2="570.22" stroke="#111" stroke-width="2"/>
<rect x="578.30" y="572.33" width="15.80" height="7.27" fill="#9d9da1" stroke="#111" stroke-width="2"/>
<text x="600.0" y="456.3" font-size="20" font-weight="bold" text-anchor="start" fill="#000" >f</text>
<line x1="165.90" y1="631.40" x2="165.90" y2="763.80" stroke="#111" stroke-width="2"/>
<line x1="161.40" y1="762.80" x2="371.20" y2="762.80" stroke="#111" stroke-width="2"/>
<text x="159.1" y="764.1" font-size="12" font-weight="bold" text-anchor="end" fill="#231f20" >0</text>
<line x1="161.40" y1="729.95" x2="165.90" y2="729.95" stroke="#111" stroke-width="2"/>
<text x="159.1" y="731.1" font-size="12" font-weight="bold" text-anchor="end" fill="#231f20" >0.5</text>
<line x1="161.40" y1="697.10" x2="165.90" y2="697.10" stroke="#111" stroke-width="2"/>
<text x="159.1" y="698.1" font-size="12" font-weight="bold" text-anchor="end" fill="#231f20" >1.0</text>
<line x1="161.40" y1="664.25" x2="165.90" y2="664.25" stroke="#111" stroke-width="2"/>
<text x="159.1" y="665.1" font-size="12" font-weight="bold" text-anchor="end" fill="#231f20" >1.5</text>
<line x1="161.40" y1="631.40" x2="165.90" y2="631.40" stroke="#111" stroke-width="2"/>
<text x="159.1" y="632.1" font-size="12" font-weight="bold" text-anchor="end" fill="#231f20" >2.0</text>
<line x1="216.70" y1="762.80" x2="216.70" y2="767.30" stroke="#111" stroke-width="2"/>
<text x="220.2" y="778.6" font-size="13.6" font-weight="bold" text-anchor="middle" fill="#231f20" >CD3</text>
<line x1="319.20" y1="762.80" x2="319.20" y2="767.30" stroke="#111" stroke-width="2"/>
<text x="322.7" y="778.6" font-size="13.6" font-weight="bold" text-anchor="middle" fill="#231f20" >CD45R</text>
<line x1="197.40" y1="706.30" x2="197.40" y2="673.78" stroke="#111" stroke-width="2"/>
<line x1="190.40" y1="673.78" x2="204.40" y2="673.78" stroke="#111" stroke-width="2"/>
<rect x="185.40" y="706.30" width="24.00" height="56.50" fill="#8fb9e4" stroke="#111" stroke-width="2"/>
<line x1="235.95" y1="683.30" x2="235.95" y2="657.02" stroke="#111" stroke-width="2"/>
<line x1="228.95" y1="657.02" x2="242.95" y2="657.02" stroke="#111" stroke-width="2"/>
<rect x="223.90" y="683.30" width="24.10" height="79.50" fill="#1f3a8f" stroke="#111" stroke-width="2"/>
<line x1="299.90" y1="727.32" x2="299.90" y2="710.90" stroke="#111" stroke-width="2"/>
<line x1="292.90" y1="710.90" x2="306.90" y2="710.90" stroke="#111" stroke-width="2"/>
<rect x="287.90" y="727.32" width="24.00" height="35.48" fill="#8fb9e4" stroke="#111" stroke-width="2"/>
<line x1="338.45" y1="732.58" x2="338.45" y2="722.72" stroke="#111" stroke-width="2"/>
<line x1="331.45" y1="722.72" x2="345.45" y2="722.72" stroke="#111" stroke-width="2"/>
<rect x="326.40" y="732.58" width="24.10" height="30.22" fill="#1f3a8f" stroke="#111" stroke-width="2"/>
<text x="349.8" y="648.0" font-size="20" font-weight="bold" text-anchor="start" fill="#000" >c</text>
<line x1="402.40" y1="628.80" x2="402.40" y2="761.50" stroke="#111" stroke-width="2"/>
<line x1="397.90" y1="760.50" x2="608.60" y2="760.50" stroke="#111" stroke-width="2"/>
<text x="393.7" y="760.0" font-size="12" font-weight="bold" text-anchor="end" fill="#231f20" >0</text>
<line x1="397.90" y1="716.60" x2="402.40" y2="716.60" stroke="#111" stroke-width="2"/>
<text x="393.7" y="718.2" font-size="12" font-weight="bold" text-anchor="end" fill="#231f20" >5</text>
<line x1="397.90" y1="672.70" x2="402.40" y2="672.70" stroke="#111" stroke-width="2"/>
<text x="393.7" y="676.5" font-size="12" font-weight="bold" text-anchor="end" fill="#231f20" >10</text>
<line x1="397.90" y1="628.80" x2="402.40" y2="628.80" stroke="#111" stroke-width="2"/>
<text x="393.7" y="634.7" font-size="12" font-weight="bold" text-anchor="end" fill="#231f20" >15</text>
<line x1="454.50" y1="760.50" x2="454.50" y2="765.00" stroke="#111" stroke-width="2"/>
<text x="453.8" y="778.5" font-size="13.6" font-weight="bold" text-anchor="middle" fill="#231f20" >CD3</text>
<line x1="556.40" y1="760.50" x2="556.40" y2="765.00" stroke="#111" stroke-width="2"/>
<text x="555.7" y="778.5" font-size="13.6" font-weight="bold" text-anchor="middle" fill="#231f20" >CD19</text>
<line x1="435.20" y1="713.18" x2="435.20" y2="697.02" stroke="#111" stroke-width="2"/>
<line x1="428.20" y1="697.02" x2="442.20" y2="697.02" stroke="#111" stroke-width="2"/>
<rect x="423.20" y="713.18" width="24.00" height="47.32" fill="#ffffff" stroke="#111" stroke-width="2"/>
<line x1="473.75" y1="693.16" x2="473.75" y2="673.40" stroke="#111" stroke-width="2"/>
<line x1="466.75" y1="673.40" x2="480.75" y2="673.40" stroke="#111" stroke-width="2"/>
<rect x="461.70" y="693.16" width="24.10" height="67.34" fill="#9d9da1" stroke="#111" stroke-width="2"/>
<line x1="537.10" y1="730.65" x2="537.10" y2="713.18" stroke="#111" stroke-width="2"/>
<line x1="530.10" y1="713.18" x2="544.10" y2="713.18" stroke="#111" stroke-width="2"/>
<rect x="525.10" y="730.65" width="24.00" height="29.85" fill="#ffffff" stroke="#111" stroke-width="2"/>
<line x1="575.65" y1="735.30" x2="575.65" y2="722.75" stroke="#111" stroke-width="2"/>
<line x1="568.65" y1="722.75" x2="582.65" y2="722.75" stroke="#111" stroke-width="2"/>
<rect x="563.60" y="735.30" width="24.10" height="25.20" fill="#9d9da1" stroke="#111" stroke-width="2"/>
<text x="598.5" y="648.0" font-size="20" font-weight="bold" text-anchor="start" fill="#000" >g</text>
<line x1="167.20" y1="791.00" x2="167.20" y2="924.10" stroke="#111" stroke-width="2"/>
<line x1="162.70" y1="923.10" x2="372.00" y2="923.10" stroke="#111" stroke-width="2"/>
<text x="159.6" y="922.9" font-size="12" font-weight="bold" text-anchor="end" fill="#231f20" >0</text>
<line x1="162.70" y1="857.05" x2="167.20" y2="857.05" stroke="#111" stroke-width="2"/>
<text x="159.6" y="857.0" font-size="12" font-weight="bold" text-anchor="end" fill="#231f20" >0.5</text>
<line x1="162.70" y1="791.00" x2="167.20" y2="791.00" stroke="#111" stroke-width="2"/>
<text x="159.6" y="791.2" font-size="12" font-weight="bold" text-anchor="end" fill="#231f20" >1.0</text>
<line x1="200.80" y1="923.10" x2="200.80" y2="927.60" stroke="#111" stroke-width="2"/>
<text x="201.5" y="940.6" font-size="13.6" font-weight="bold" text-anchor="middle" fill="#231f20" >CD4</text>
<line x1="269.00" y1="923.10" x2="269.00" y2="927.60" stroke="#111" stroke-width="2"/>
<text x="269.7" y="940.6" font-size="13.6" font-weight="bold" text-anchor="middle" fill="#231f20" >CD8</text>
<line x1="337.70" y1="923.10" x2="337.70" y2="927.60" stroke="#111" stroke-width="2"/>
<text x="338.4" y="940.6" font-size="13.6" font-weight="bold" text-anchor="middle" fill="#231f20" >DN</text>
<line x1="188.10" y1="901.83" x2="188.10" y2="900.91" stroke="#111" stroke-width="2"/>
<line x1="183.80" y1="900.91" x2="192.40" y2="900.91" stroke="#111" stroke-width="2"/>
<rect x="180.20" y="901.83" width="15.80" height="21.27" fill="#8fb9e4" stroke="#111" stroke-width="2"/>
<line x1="213.80" y1="886.11" x2="213.80" y2="864.98" stroke="#111" stroke-width="2"/>
<line x1="209.50" y1="864.98" x2="218.10" y2="864.98" stroke="#111" stroke-width="2"/>
<rect x="205.90" y="886.11" width="15.80" height="36.99" fill="#1f3a8f" stroke="#111" stroke-width="2"/>
<line x1="256.30" y1="903.42" x2="256.30" y2="894.43" stroke="#111" stroke-width="2"/>
<line x1="252.00" y1="894.43" x2="260.60" y2="894.43" stroke="#111" stroke-width="2"/>
<rect x="248.40" y="903.42" width="15.80" height="19.68" fill="#8fb9e4" stroke="#111" stroke-width="2"/>
<line x1="282.00" y1="917.55" x2="282.00" y2="914.65" stroke="#111" stroke-width="2"/>
<line x1="277.70" y1="914.65" x2="286.30" y2="914.65" stroke="#111" stroke-width="2"/>
<rect x="274.10" y="917.55" width="15.80" height="5.55" fill="#1f3a8f" stroke="#111" stroke-width="2"/>
<line x1="325.00" y1="887.17" x2="325.00" y2="886.38" stroke="#111" stroke-width="2"/>
<line x1="320.70" y1="886.38" x2="329.30" y2="886.38" stroke="#111" stroke-width="2"/>
<rect x="317.10" y="887.17" width="15.80" height="35.93" fill="#8fb9e4" stroke="#111" stroke-width="2"/>
<line x1="350.70" y1="845.56" x2="350.70" y2="834.99" stroke="#111" stroke-width="2"/>
<line x1="346.40" y1="834.99" x2="355.00" y2="834.99" stroke="#111" stroke-width="2"/>
<rect x="342.80" y="845.56" width="15.80" height="77.54" fill="#1f3a8f" stroke="#111" stroke-width="2"/>
<text x="349.0" y="811.3" font-size="20" font-weight="bold" text-anchor="start" fill="#000" >d</text>
<line x1="400.10" y1="791.90" x2="400.10" y2="924.70" stroke="#111" stroke-width="2"/>
<line x1="395.60" y1="923.70" x2="606.00" y2="923.70" stroke="#111" stroke-width="2"/>
<text x="394.2" y="923.8" font-size="12" font-weight="bold" text-anchor="end" fill="#231f20" >0</text>
<line x1="395.60" y1="890.75" x2="400.10" y2="890.75" stroke="#111" stroke-width="2"/>
<text x="394.2" y="891.2" font-size="12" font-weight="bold" text-anchor="end" fill="#231f20" >5</text>
<line x1="395.60" y1="857.80" x2="400.10" y2="857.80" stroke="#111" stroke-width="2"/>
<text x="394.2" y="858.6" font-size="12" font-weight="bold" text-anchor="end" fill="#231f20" >10</text>
<line x1="395.60" y1="824.85" x2="400.10" y2="824.85" stroke="#111" stroke-width="2"/>
<text x="394.2" y="826.0" font-size="12" font-weight="bold" text-anchor="end" fill="#231f20" >15</text>
<line x1="395.60" y1="791.90" x2="400.10" y2="791.90" stroke="#111" stroke-width="2"/>
<text x="394.2" y="793.4" font-size="12" font-weight="bold" text-anchor="end" fill="#231f20" >20</text>
<line x1="434.30" y1="923.70" x2="434.30" y2="928.20" stroke="#111" stroke-width="2"/>
<text x="434.8" y="941.2" font-size="13.6" font-weight="bold" text-anchor="middle" fill="#231f20" >CD4</text>
<line x1="502.20" y1="923.70" x2="502.20" y2="928.20" stroke="#111" stroke-width="2"/>
<text x="502.7" y="941.2" font-size="13.6" font-weight="bold" text-anchor="middle" fill="#231f20" >CD8</text>
<line x1="570.90" y1="923.70" x2="570.90" y2="928.20" stroke="#111" stroke-width="2"/>
<text x="571.4" y="941.2" font-size="13.6" font-weight="bold" text-anchor="middle" fill="#231f20" >DN</text>
<line x1="421.60" y1="896.48" x2="421.60" y2="879.55" stroke="#111" stroke-width="2"/>
<line x1="417.30" y1="879.55" x2="425.90" y2="879.55" stroke="#111" stroke-width="2"/>
<rect x="413.70" y="896.48" width="15.80" height="27.22" fill="#ffffff" stroke="#111" stroke-width="2"/>
<line x1="447.30" y1="891.80" x2="447.30" y2="877.17" stroke="#111" stroke-width="2"/>
<line x1="443.00" y1="877.17" x2="451.60" y2="877.17" stroke="#111" stroke-width="2"/>
<rect x="439.40" y="891.80" width="15.80" height="31.90" fill="#9d9da1" stroke="#111" stroke-width="2"/>
<line x1="489.50" y1="920.21" x2="489.50" y2="917.11" stroke="#111" stroke-width="2"/>
<line x1="485.20" y1="917.11" x2="493.80" y2="917.11" stroke="#111" stroke-width="2"/>
<rect x="481.60" y="920.21" width="15.80" height="3.49" fill="#ffffff" stroke="#111" stroke-width="2"/>
<line x1="515.20" y1="908.54" x2="515.20" y2="901.95" stroke="#111" stroke-width="2"/>
<line x1="510.90" y1="901.95" x2="519.50" y2="901.95" stroke="#111" stroke-width="2"/>
<rect x="507.30" y="908.54" width="15.80" height="15.16" fill="#9d9da1" stroke="#111" stroke-width="2"/>
<line x1="558.20" y1="912.69" x2="558.20" y2="911.84" stroke="#111" stroke-width="2"/>
<line x1="553.90" y1="911.84" x2="562.50" y2="911.84" stroke="#111" stroke-width="2"/>
<rect x="550.30" y="912.69" width="15.80" height="11.01" fill="#ffffff" stroke="#111" stroke-width="2"/>
<line x1="583.90" y1="919.75" x2="583.90" y2="917.77" stroke="#111" stroke-width="2"/>
<line x1="579.60" y1="917.77" x2="588.20" y2="917.77" stroke="#111" stroke-width="2"/>
<rect x="576.00" y="919.75" width="15.80" height="3.95" fill="#9d9da1" stroke="#111" stroke-width="2"/>
<text x="599.5" y="812.0" font-size="20" font-weight="bold" text-anchor="start" fill="#000" >h</text>
<text x="0" y="0" transform="translate(137.3,344.2) rotate(-90)" font-size="15" font-weight="normal" text-anchor="middle" fill="#333">% of all cells</text>
<text x="0" y="0" transform="translate(137.3,486.4) rotate(-90)" font-size="15" font-weight="normal" text-anchor="middle" fill="#333">% of all cells</text>
<text x="0" y="0" transform="translate(137.3,688.6) rotate(-90)" font-size="15" font-weight="normal" text-anchor="middle" fill="#333">% of all cells</text>
<text x="0" y="0" transform="translate(137.3,854.6) rotate(-90)" font-size="15" font-weight="normal" text-anchor="middle" fill="#333">% of all cells</text>
<rect x="78.3" y="344.3" width="39.2" height="167.1" fill="none" stroke="#111" stroke-width="2"/>
<text x="0" y="0" transform="translate(102.2,428.6) rotate(-90)" font-size="22.4" font-weight="normal" text-anchor="middle" fill="#222">Lamina Propria</text>
<rect x="78.5" y="699" width="39" height="128.4" fill="none" stroke="#111" stroke-width="2"/>
<text x="0" y="0" transform="translate(103.8,761.2) rotate(-90)" font-size="22" font-weight="normal" text-anchor="middle" fill="#222">Epithelium</text>
<rect x="164.8" y="957.5" width="196.0" height="37.6" fill="none" stroke="#2b4cff" stroke-width="4.5" stroke-dasharray="8 8.6"/>
<text x="189.0" y="981.8" font-size="17.5" font-weight="bold" text-anchor="start" fill="#222" >mIHC</text>
<rect x="251.2" y="971.8" width="14.6" height="9.6" fill="#add8e6" stroke="#222" stroke-width="1.8"/>
<text x="271.5" y="981.0" font-size="12.5" font-weight="bold" text-anchor="start" fill="#222" >WT</text>
<rect x="297.6" y="970.7" width="14.2" height="9.6" fill="#2a4a9a" stroke="#222" stroke-width="1.8"/>
<text x="316.5" y="981.0" font-size="12.5" font-weight="bold" text-anchor="start" fill="#222" >TG</text>
<rect x="411.8" y="956.6" width="196.1" height="37.6" fill="none" stroke="#000" stroke-width="4.5" stroke-dasharray="8 8.6"/>
<text x="427.5" y="981.8" font-size="17.4" font-weight="bold" text-anchor="start" fill="#222" textLength="46.6" lengthAdjust="spacingAndGlyphs">FACS</text>
<rect x="497.2" y="970.2" width="14.8" height="9.6" fill="#fff" stroke="#222" stroke-width="1.8"/>
<text x="518.0" y="980.7" font-size="12.5" font-weight="bold" text-anchor="start" fill="#222" >WT</text>
<rect x="553.5" y="970.2" width="14.8" height="9.6" fill="#9d9da1" stroke="#222" stroke-width="1.8"/>
<text x="575.2" y="980.7" font-size="12.5" font-weight="bold" text-anchor="start" fill="#222" >TG</text>
<line x1="128.00" y1="1022.10" x2="128.00" y2="1209.00" stroke="#111" stroke-width="2"/>
<line x1="123.50" y1="1208.00" x2="267.30" y2="1208.00" stroke="#111" stroke-width="2"/>
<text x="118.5" y="1208.5" font-size="12" font-weight="bold" text-anchor="end" fill="#231f20" >0</text>
<line x1="123.50" y1="1170.90" x2="128.00" y2="1170.90" stroke="#111" stroke-width="2"/>
<text x="118.5" y="1171.4" font-size="12" font-weight="bold" text-anchor="end" fill="#231f20" >1</text>
<line x1="123.50" y1="1133.80" x2="128.00" y2="1133.80" stroke="#111" stroke-width="2"/>
<text x="118.5" y="1134.3" font-size="12" font-weight="bold" text-anchor="end" fill="#231f20" >2</text>
<line x1="123.50" y1="1096.70" x2="128.00" y2="1096.70" stroke="#111" stroke-width="2"/>
<text x="118.5" y="1097.2" font-size="12" font-weight="bold" text-anchor="end" fill="#231f20" >3</text>
<line x1="123.50" y1="1059.60" x2="128.00" y2="1059.60" stroke="#111" stroke-width="2"/>
<text x="118.5" y="1060.1" font-size="12" font-weight="bold" text-anchor="end" fill="#231f20" >4</text>
<line x1="145.00" y1="1208.00" x2="145.00" y2="1213.00" stroke="#111" stroke-width="2"/>
<text x="145.0" y="1229.5" font-size="14" font-weight="bold" text-anchor="middle" fill="#111" >WT</text>
<line x1="179.80" y1="1208.00" x2="179.80" y2="1213.00" stroke="#111" stroke-width="2"/>
<text x="179.8" y="1229.5" font-size="14" font-weight="bold" text-anchor="middle" fill="#111" >WT</text>
<line x1="214.70" y1="1208.00" x2="214.70" y2="1213.00" stroke="#111" stroke-width="2"/>
<text x="214.7" y="1229.5" font-size="14" font-weight="bold" text-anchor="middle" fill="#111" >TG</text>
<line x1="249.70" y1="1208.00" x2="249.70" y2="1213.00" stroke="#111" stroke-width="2"/>
<text x="249.7" y="1229.5" font-size="14" font-weight="bold" text-anchor="middle" fill="#111" >TG</text>
<circle cx="136.80" cy="1133.80" r="5.2" fill="#fff" stroke="#111" stroke-width="1.6"/>
<circle cx="153.50" cy="1133.80" r="5.2" fill="#fff" stroke="#111" stroke-width="1.6"/>
<circle cx="145.00" cy="1170.90" r="5.2" fill="#fff" stroke="#111" stroke-width="1.6"/>
<line x1="145.00" y1="1124.90" x2="145.00" y2="1167.93" stroke="#111" stroke-width="1.7"/>
<line x1="138.70" y1="1124.90" x2="151.30" y2="1124.90" stroke="#111" stroke-width="1.7"/>
<line x1="138.70" y1="1167.93" x2="151.30" y2="1167.93" stroke="#111" stroke-width="1.7"/>
<line x1="132.80" y1="1146.04" x2="157.20" y2="1146.04" stroke="#111" stroke-width="1.7"/>
<circle cx="171.40" cy="1059.60" r="5.2" fill="#90c0f5" stroke="#111" stroke-width="1.6"/>
<circle cx="188.00" cy="1059.60" r="5.2" fill="#90c0f5" stroke="#111" stroke-width="1.6"/>
<circle cx="179.80" cy="1096.70" r="5.2" fill="#90c0f5" stroke="#111" stroke-width="1.6"/>
<line x1="179.80" y1="1050.70" x2="179.80" y2="1092.99" stroke="#111" stroke-width="1.7"/>
<line x1="173.50" y1="1050.70" x2="186.10" y2="1050.70" stroke="#111" stroke-width="1.7"/>
<line x1="173.50" y1="1092.99" x2="186.10" y2="1092.99" stroke="#111" stroke-width="1.7"/>
<line x1="167.60" y1="1071.84" x2="192.00" y2="1071.84" stroke="#111" stroke-width="1.7"/>
<path d="M209.50,1091.10 L215.10,1102.30 L203.90,1102.30 Z" fill="#a0a0a4" stroke="#111" stroke-width="1.6" stroke-linejoin="miter"/>
<path d="M219.50,1091.10 L225.10,1102.30 L213.90,1102.30 Z" fill="#a0a0a4" stroke="#111" stroke-width="1.6" stroke-linejoin="miter"/>
<path d="M209.50,1128.20 L215.10,1139.40 L203.90,1139.40 Z" fill="#a0a0a4" stroke="#111" stroke-width="1.6" stroke-linejoin="miter"/>
<path d="M219.50,1128.20 L225.10,1139.40 L213.90,1139.40 Z" fill="#a0a0a4" stroke="#111" stroke-width="1.6" stroke-linejoin="miter"/>
<line x1="214.70" y1="1094.10" x2="214.70" y2="1136.40" stroke="#111" stroke-width="1.7"/>
<line x1="208.40" y1="1094.10" x2="221.00" y2="1094.10" stroke="#111" stroke-width="1.7"/>
<line x1="208.40" y1="1136.40" x2="221.00" y2="1136.40" stroke="#111" stroke-width="1.7"/>
<line x1="202.50" y1="1115.25" x2="226.90" y2="1115.25" stroke="#111" stroke-width="1.7"/>
<path d="M249.70,1054.00 L255.30,1065.20 L244.10,1065.20 Z" fill="#0a0ac8" stroke="#111" stroke-width="1.6" stroke-linejoin="miter"/>
<path d="M240.90,1091.10 L246.50,1102.30 L235.30,1102.30 Z" fill="#0a0ac8" stroke="#111" stroke-width="1.6" stroke-linejoin="miter"/>
<path d="M258.30,1091.10 L263.90,1102.30 L252.70,1102.30 Z" fill="#0a0ac8" stroke="#111" stroke-width="1.6" stroke-linejoin="miter"/>
<path d="M249.70,1128.20 L255.30,1139.40 L244.10,1139.40 Z" fill="#0a0ac8" stroke="#111" stroke-width="1.6" stroke-linejoin="miter"/>
<line x1="249.70" y1="1066.65" x2="249.70" y2="1126.75" stroke="#111" stroke-width="1.7"/>
<line x1="243.40" y1="1066.65" x2="256.00" y2="1066.65" stroke="#111" stroke-width="1.7"/>
<line x1="243.40" y1="1126.75" x2="256.00" y2="1126.75" stroke="#111" stroke-width="1.7"/>
<line x1="237.50" y1="1096.70" x2="261.90" y2="1096.70" stroke="#111" stroke-width="1.7"/>
<text x="0" y="0" transform="translate(104.5,1116.5) rotate(-90)" font-size="15" font-weight="normal" text-anchor="middle" fill="#333">LP infiltrate score</text>
<line x1="316.60" y1="1029.10" x2="316.60" y2="1209.10" stroke="#111" stroke-width="2"/>
<line x1="312.10" y1="1208.10" x2="453.00" y2="1208.10" stroke="#111" stroke-width="2"/>
<text x="307.1" y="1208.6" font-size="12" font-weight="bold" text-anchor="end" fill="#231f20" >0</text>
<line x1="312.10" y1="1171.50" x2="316.60" y2="1171.50" stroke="#111" stroke-width="2"/>
<text x="307.1" y="1172.0" font-size="12" font-weight="bold" text-anchor="end" fill="#231f20" >1</text>
<line x1="312.10" y1="1134.90" x2="316.60" y2="1134.90" stroke="#111" stroke-width="2"/>
<text x="307.1" y="1135.4" font-size="12" font-weight="bold" text-anchor="end" fill="#231f20" >2</text>
<line x1="312.10" y1="1098.30" x2="316.60" y2="1098.30" stroke="#111" stroke-width="2"/>
<text x="307.1" y="1098.8" font-size="12" font-weight="bold" text-anchor="end" fill="#231f20" >3</text>
<line x1="312.10" y1="1061.70" x2="316.60" y2="1061.70" stroke="#111" stroke-width="2"/>
<text x="307.1" y="1062.2" font-size="12" font-weight="bold" text-anchor="end" fill="#231f20" >4</text>
<line x1="333.80" y1="1208.10" x2="333.80" y2="1213.10" stroke="#111" stroke-width="2"/>
<text x="333.8" y="1229.6" font-size="14" font-weight="bold" text-anchor="middle" fill="#111" >WT</text>
<line x1="368.00" y1="1208.10" x2="368.00" y2="1213.10" stroke="#111" stroke-width="2"/>
<text x="368.0" y="1229.6" font-size="14" font-weight="bold" text-anchor="middle" fill="#111" >WT</text>
<line x1="402.10" y1="1208.10" x2="402.10" y2="1213.10" stroke="#111" stroke-width="2"/>
<text x="402.1" y="1229.6" font-size="14" font-weight="bold" text-anchor="middle" fill="#111" >TG</text>
<line x1="436.10" y1="1208.10" x2="436.10" y2="1213.10" stroke="#111" stroke-width="2"/>
<text x="436.1" y="1229.6" font-size="14" font-weight="bold" text-anchor="middle" fill="#111" >TG</text>
<circle cx="333.80" cy="1061.70" r="5.2" fill="#fff" stroke="#111" stroke-width="1.6"/>
<circle cx="329.40" cy="1098.30" r="5.2" fill="#fff" stroke="#111" stroke-width="1.6"/>
<circle cx="337.90" cy="1098.30" r="5.2" fill="#fff" stroke="#111" stroke-width="1.6"/>
<line x1="333.80" y1="1065.36" x2="333.80" y2="1107.08" stroke="#111" stroke-width="1.7"/>
<line x1="327.50" y1="1065.36" x2="340.10" y2="1065.36" stroke="#111" stroke-width="1.7"/>
<line x1="327.50" y1="1107.08" x2="340.10" y2="1107.08" stroke="#111" stroke-width="1.7"/>
<line x1="321.60" y1="1086.22" x2="346.00" y2="1086.22" stroke="#111" stroke-width="1.7"/>
<circle cx="362.50" cy="1061.70" r="5.2" fill="#90c0f5" stroke="#111" stroke-width="1.6"/>
<circle cx="374.30" cy="1061.70" r="5.2" fill="#90c0f5" stroke="#111" stroke-width="1.6"/>
<circle cx="368.00" cy="1098.30" r="5.2" fill="#90c0f5" stroke="#111" stroke-width="1.6"/>
<line x1="368.00" y1="1052.92" x2="368.00" y2="1095.01" stroke="#111" stroke-width="1.7"/>
<line x1="361.70" y1="1052.92" x2="374.30" y2="1052.92" stroke="#111" stroke-width="1.7"/>
<line x1="361.70" y1="1095.01" x2="374.30" y2="1095.01" stroke="#111" stroke-width="1.7"/>
<line x1="355.80" y1="1073.78" x2="380.20" y2="1073.78" stroke="#111" stroke-width="1.7"/>
<path d="M402.10,1056.10 L407.70,1067.30 L396.50,1067.30 Z" fill="#a0a0a4" stroke="#111" stroke-width="1.6" stroke-linejoin="miter"/>
<path d="M394.00,1092.70 L399.60,1103.90 L388.40,1103.90 Z" fill="#a0a0a4" stroke="#111" stroke-width="1.6" stroke-linejoin="miter"/>
<path d="M410.30,1092.70 L415.90,1103.90 L404.70,1103.90 Z" fill="#a0a0a4" stroke="#111" stroke-width="1.6" stroke-linejoin="miter"/>
<path d="M402.10,1129.30 L407.70,1140.50 L396.50,1140.50 Z" fill="#a0a0a4" stroke="#111" stroke-width="1.6" stroke-linejoin="miter"/>
<line x1="402.10" y1="1068.29" x2="402.10" y2="1128.31" stroke="#111" stroke-width="1.7"/>
<line x1="395.80" y1="1068.29" x2="408.40" y2="1068.29" stroke="#111" stroke-width="1.7"/>
<line x1="395.80" y1="1128.31" x2="408.40" y2="1128.31" stroke="#111" stroke-width="1.7"/>
<line x1="389.90" y1="1098.30" x2="414.30" y2="1098.30" stroke="#111" stroke-width="1.7"/>
<path d="M430.20,1056.10 L435.80,1067.30 L424.60,1067.30 Z" fill="#0a0ac8" stroke="#111" stroke-width="1.6" stroke-linejoin="miter"/>
<path d="M441.90,1056.10 L447.50,1067.30 L436.30,1067.30 Z" fill="#0a0ac8" stroke="#111" stroke-width="1.6" stroke-linejoin="miter"/>
<path d="M430.20,1092.70 L435.80,1103.90 L424.60,1103.90 Z" fill="#0a0ac8" stroke="#111" stroke-width="1.6" stroke-linejoin="miter"/>
<path d="M441.90,1092.70 L447.50,1103.90 L436.30,1103.90 Z" fill="#0a0ac8" stroke="#111" stroke-width="1.6" stroke-linejoin="miter"/>
<line x1="436.10" y1="1058.77" x2="436.10" y2="1101.23" stroke="#111" stroke-width="1.7"/>
<line x1="429.80" y1="1058.77" x2="442.40" y2="1058.77" stroke="#111" stroke-width="1.7"/>
<line x1="429.80" y1="1101.23" x2="442.40" y2="1101.23" stroke="#111" stroke-width="1.7"/>
<line x1="423.90" y1="1080.00" x2="448.30" y2="1080.00" stroke="#111" stroke-width="1.7"/>
<text x="0" y="0" transform="translate(294.8,1116.9) rotate(-90)" font-size="15" font-weight="normal" text-anchor="middle" fill="#333">CD3+ cell score</text>
<line x1="505.60" y1="1024.60" x2="505.60" y2="1208.50" stroke="#111" stroke-width="2"/>
<line x1="501.10" y1="1207.50" x2="644.00" y2="1207.50" stroke="#111" stroke-width="2"/>
<text x="496.1" y="1208.0" font-size="12" font-weight="bold" text-anchor="end" fill="#231f20" >0</text>
<line x1="501.10" y1="1171.05" x2="505.60" y2="1171.05" stroke="#111" stroke-width="2"/>
<text x="496.1" y="1171.5" font-size="12" font-weight="bold" text-anchor="end" fill="#231f20" >1</text>
<line x1="501.10" y1="1134.60" x2="505.60" y2="1134.60" stroke="#111" stroke-width="2"/>
<text x="496.1" y="1135.1" font-size="12" font-weight="bold" text-anchor="end" fill="#231f20" >2</text>
<line x1="501.10" y1="1098.15" x2="505.60" y2="1098.15" stroke="#111" stroke-width="2"/>
<text x="496.1" y="1098.7" font-size="12" font-weight="bold" text-anchor="end" fill="#231f20" >3</text>
<line x1="501.10" y1="1061.70" x2="505.60" y2="1061.70" stroke="#111" stroke-width="2"/>
<text x="496.1" y="1062.2" font-size="12" font-weight="bold" text-anchor="end" fill="#231f20" >4</text>
<line x1="523.20" y1="1207.50" x2="523.20" y2="1212.50" stroke="#111" stroke-width="2"/>
<text x="523.2" y="1229.0" font-size="14" font-weight="bold" text-anchor="middle" fill="#111" >WT</text>
<line x1="557.70" y1="1207.50" x2="557.70" y2="1212.50" stroke="#111" stroke-width="2"/>
<text x="557.7" y="1229.0" font-size="14" font-weight="bold" text-anchor="middle" fill="#111" >WT</text>
<line x1="592.40" y1="1207.50" x2="592.40" y2="1212.50" stroke="#111" stroke-width="2"/>
<text x="592.4" y="1229.0" font-size="14" font-weight="bold" text-anchor="middle" fill="#111" >TG</text>
<line x1="626.90" y1="1207.50" x2="626.90" y2="1212.50" stroke="#111" stroke-width="2"/>
<text x="626.9" y="1229.0" font-size="14" font-weight="bold" text-anchor="middle" fill="#111" >TG</text>
<circle cx="523.20" cy="1098.15" r="5.2" fill="#fff" stroke="#111" stroke-width="1.6"/>
<circle cx="523.20" cy="1134.60" r="5.2" fill="#fff" stroke="#111" stroke-width="1.6"/>
<circle cx="523.20" cy="1171.05" r="5.2" fill="#fff" stroke="#111" stroke-width="1.6"/>
<line x1="523.20" y1="1098.15" x2="523.20" y2="1171.05" stroke="#111" stroke-width="1.7"/>
<line x1="516.90" y1="1098.15" x2="529.50" y2="1098.15" stroke="#111" stroke-width="1.7"/>
<line x1="516.90" y1="1171.05" x2="529.50" y2="1171.05" stroke="#111" stroke-width="1.7"/>
<line x1="511.00" y1="1134.60" x2="535.40" y2="1134.60" stroke="#111" stroke-width="1.7"/>
<circle cx="557.70" cy="1061.70" r="5.2" fill="#90c0f5" stroke="#111" stroke-width="1.6"/>
<circle cx="553.40" cy="1134.60" r="5.2" fill="#90c0f5" stroke="#111" stroke-width="1.6"/>
<circle cx="562.30" cy="1134.60" r="5.2" fill="#90c0f5" stroke="#111" stroke-width="1.6"/>
<line x1="557.70" y1="1068.26" x2="557.70" y2="1152.46" stroke="#111" stroke-width="1.7"/>
<line x1="551.40" y1="1068.26" x2="564.00" y2="1068.26" stroke="#111" stroke-width="1.7"/>
<line x1="551.40" y1="1152.46" x2="564.00" y2="1152.46" stroke="#111" stroke-width="1.7"/>
<line x1="545.50" y1="1110.18" x2="569.90" y2="1110.18" stroke="#111" stroke-width="1.7"/>
<path d="M587.00,1092.55 L592.60,1103.75 L581.40,1103.75 Z" fill="#a0a0a4" stroke="#111" stroke-width="1.6" stroke-linejoin="miter"/>
<path d="M597.80,1092.55 L603.40,1103.75 L592.20,1103.75 Z" fill="#a0a0a4" stroke="#111" stroke-width="1.6" stroke-linejoin="miter"/>
<path d="M592.40,1129.00 L598.00,1140.20 L586.80,1140.20 Z" fill="#a0a0a4" stroke="#111" stroke-width="1.6" stroke-linejoin="miter"/>
<path d="M592.40,1165.45 L598.00,1176.65 L586.80,1176.65 Z" fill="#a0a0a4" stroke="#111" stroke-width="1.6" stroke-linejoin="miter"/>
<line x1="592.40" y1="1090.86" x2="592.40" y2="1160.48" stroke="#111" stroke-width="1.7"/>
<line x1="586.10" y1="1090.86" x2="598.70" y2="1090.86" stroke="#111" stroke-width="1.7"/>
<line x1="586.10" y1="1160.48" x2="598.70" y2="1160.48" stroke="#111" stroke-width="1.7"/>
<line x1="580.20" y1="1125.49" x2="604.60" y2="1125.49" stroke="#111" stroke-width="1.7"/>
<path d="M626.90,1056.10 L632.50,1067.30 L621.30,1067.30 Z" fill="#0a0ac8" stroke="#111" stroke-width="1.6" stroke-linejoin="miter"/>
<path d="M617.90,1092.55 L623.50,1103.75 L612.30,1103.75 Z" fill="#0a0ac8" stroke="#111" stroke-width="1.6" stroke-linejoin="miter"/>
<path d="M626.90,1092.55 L632.50,1103.75 L621.30,1103.75 Z" fill="#0a0ac8" stroke="#111" stroke-width="1.6" stroke-linejoin="miter"/>
<path d="M635.40,1092.55 L641.00,1103.75 L629.80,1103.75 Z" fill="#0a0ac8" stroke="#111" stroke-width="1.6" stroke-linejoin="miter"/>
<line x1="626.90" y1="1070.81" x2="626.90" y2="1107.26" stroke="#111" stroke-width="1.7"/>
<line x1="620.60" y1="1070.81" x2="633.20" y2="1070.81" stroke="#111" stroke-width="1.7"/>
<line x1="620.60" y1="1107.26" x2="633.20" y2="1107.26" stroke="#111" stroke-width="1.7"/>
<line x1="614.70" y1="1089.04" x2="639.10" y2="1089.04" stroke="#111" stroke-width="1.7"/>
<text x="0" y="0" transform="translate(486.0,1115.8) rotate(-90)" font-size="15" font-weight="normal" text-anchor="middle" fill="#333">CD45R+ cell score</text>
<circle cx="225.3" cy="1254.2" r="7.3" fill="#90c0f5" stroke="#111" stroke-width="1.6"/>
<path d="M250.4,1245.4 L258.3,1260.9 L242.5,1260.9 Z" fill="#0a0ac8" stroke="#111" stroke-width="1.6"/>
<text x="265.0" y="1261.0" font-size="16" font-weight="normal" text-anchor="start" fill="#333" >mIHC analysis</text>
<circle cx="402" cy="1253.7" r="7.3" fill="#fff" stroke="#111" stroke-width="1.6"/>
<path d="M427.1,1244.6 L435,1260.9 L419.2,1260.9 Z" fill="#a0a0a4" stroke="#111" stroke-width="1.6"/>
<text x="443.0" y="1261.0" font-size="16" font-weight="normal" text-anchor="start" fill="#333" >IHC standard</text>
<text x="-0.4" y="21.6" font-size="30" font-weight="bold" text-anchor="start" fill="#000" >A</text>
<text x="1.0" y="295.0" font-size="30" font-weight="bold" text-anchor="start" fill="#000" >B</text>
<text x="0.3" y="1037.9" font-size="30.5" font-weight="bold" text-anchor="start" fill="#000" >C</text>
</svg>
</body></html>
